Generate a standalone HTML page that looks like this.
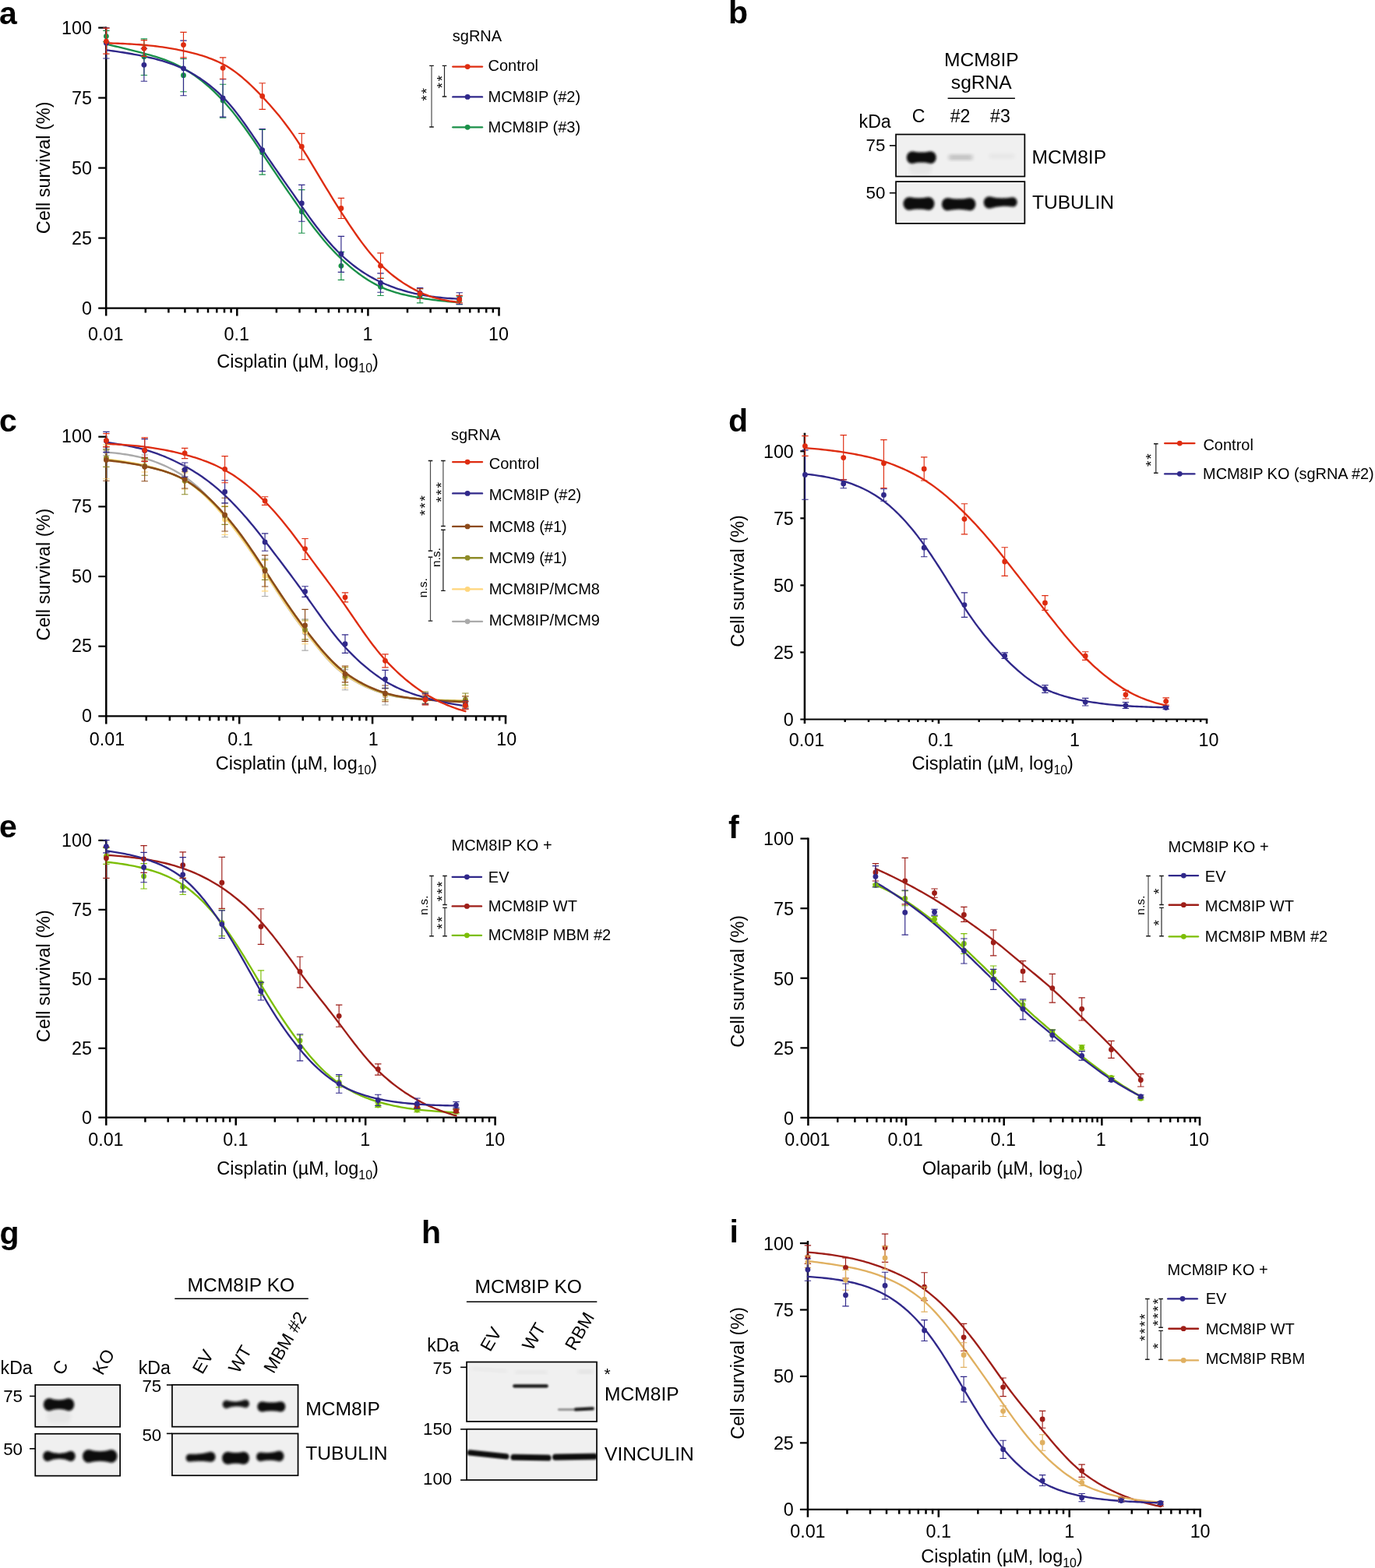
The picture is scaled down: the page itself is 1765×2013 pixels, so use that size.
<!DOCTYPE html>
<html lang="en"><head><meta charset="utf-8"><title>Figure</title>
<style>html,body{margin:0;padding:0;background:#fff}body{width:1765px;height:2013px;overflow:hidden}svg{display:block;font-family:"Liberation Sans",sans-serif}text{white-space:pre;font-family:"Liberation Sans",sans-serif}</style></head>
<body>
<svg width="1765" height="2013" viewBox="0 0 1765 2013" fill="#000">
<text x="-1" y="30.5" font-weight="bold" font-size="41" >a</text>
<line x1="136.2" y1="34.5" x2="136.2" y2="405.6" stroke="#000" stroke-width="2.5"/>
<line x1="126.2" y1="395.6" x2="641.75" y2="395.6" stroke="#000" stroke-width="2.2"/>
<text x="117.9" y="404.1" text-anchor="end" font-size="23.3" >0</text>
<line x1="126.2" y1="305.6" x2="136.2" y2="305.6" stroke="#000" stroke-width="2.2"/>
<text x="117.9" y="314.1" text-anchor="end" font-size="23.3" >25</text>
<line x1="126.2" y1="215.6" x2="136.2" y2="215.6" stroke="#000" stroke-width="2.2"/>
<text x="117.9" y="224.1" text-anchor="end" font-size="23.3" >50</text>
<line x1="126.2" y1="125.6" x2="136.2" y2="125.6" stroke="#000" stroke-width="2.2"/>
<text x="117.9" y="134.1" text-anchor="end" font-size="23.3" >75</text>
<line x1="126.2" y1="35.6" x2="136.2" y2="35.6" stroke="#000" stroke-width="2.2"/>
<text x="117.9" y="44.1" text-anchor="end" font-size="23.3" >100</text>
<text x="135.7" y="437.2" text-anchor="middle" font-size="23.3" >0.01</text>
<line x1="186.8" y1="395.6" x2="186.8" y2="401.5" stroke="#000" stroke-width="2.5"/>
<line x1="216.4" y1="395.6" x2="216.4" y2="401.5" stroke="#000" stroke-width="2.5"/>
<line x1="237.41" y1="395.6" x2="237.41" y2="401.5" stroke="#000" stroke-width="2.5"/>
<line x1="253.7" y1="395.6" x2="253.7" y2="401.5" stroke="#000" stroke-width="2.5"/>
<line x1="267.01" y1="395.6" x2="267.01" y2="401.5" stroke="#000" stroke-width="2.5"/>
<line x1="278.26" y1="395.6" x2="278.26" y2="401.5" stroke="#000" stroke-width="2.5"/>
<line x1="288.01" y1="395.6" x2="288.01" y2="401.5" stroke="#000" stroke-width="2.5"/>
<line x1="296.61" y1="395.6" x2="296.61" y2="401.5" stroke="#000" stroke-width="2.5"/>
<line x1="304.3" y1="395.6" x2="304.3" y2="405.6" stroke="#000" stroke-width="2.5"/>
<text x="303.8" y="437.2" text-anchor="middle" font-size="23.3" >0.1</text>
<line x1="354.9" y1="395.6" x2="354.9" y2="401.5" stroke="#000" stroke-width="2.5"/>
<line x1="384.5" y1="395.6" x2="384.5" y2="401.5" stroke="#000" stroke-width="2.5"/>
<line x1="405.51" y1="395.6" x2="405.51" y2="401.5" stroke="#000" stroke-width="2.5"/>
<line x1="421.8" y1="395.6" x2="421.8" y2="401.5" stroke="#000" stroke-width="2.5"/>
<line x1="435.11" y1="395.6" x2="435.11" y2="401.5" stroke="#000" stroke-width="2.5"/>
<line x1="446.36" y1="395.6" x2="446.36" y2="401.5" stroke="#000" stroke-width="2.5"/>
<line x1="456.11" y1="395.6" x2="456.11" y2="401.5" stroke="#000" stroke-width="2.5"/>
<line x1="464.71" y1="395.6" x2="464.71" y2="401.5" stroke="#000" stroke-width="2.5"/>
<line x1="472.4" y1="395.6" x2="472.4" y2="405.6" stroke="#000" stroke-width="2.5"/>
<text x="471.9" y="437.2" text-anchor="middle" font-size="23.3" >1</text>
<line x1="523" y1="395.6" x2="523" y2="401.5" stroke="#000" stroke-width="2.5"/>
<line x1="552.6" y1="395.6" x2="552.6" y2="401.5" stroke="#000" stroke-width="2.5"/>
<line x1="573.61" y1="395.6" x2="573.61" y2="401.5" stroke="#000" stroke-width="2.5"/>
<line x1="589.9" y1="395.6" x2="589.9" y2="401.5" stroke="#000" stroke-width="2.5"/>
<line x1="603.21" y1="395.6" x2="603.21" y2="401.5" stroke="#000" stroke-width="2.5"/>
<line x1="614.46" y1="395.6" x2="614.46" y2="401.5" stroke="#000" stroke-width="2.5"/>
<line x1="624.21" y1="395.6" x2="624.21" y2="401.5" stroke="#000" stroke-width="2.5"/>
<line x1="632.81" y1="395.6" x2="632.81" y2="401.5" stroke="#000" stroke-width="2.5"/>
<line x1="640.5" y1="395.6" x2="640.5" y2="405.6" stroke="#000" stroke-width="2.5"/>
<text x="640" y="437.2" text-anchor="middle" font-size="23.3" >10</text>
<text x="382.1" y="472.2" text-anchor="middle" font-size="23.5" >Cisplatin (µM, log<tspan font-size="15.86" dy="6">10</tspan><tspan dy="-6">)</tspan></text>
<text text-anchor="middle" transform="translate(64.2,215.35) rotate(-90)" font-size="23.5" >Cell survival (%)</text>
<path d="M136.4 56.8 L139.4 57.47 L142.4 58.15 L145.4 58.83 L148.4 59.52 L151.4 60.22 L154.4 60.93 L157.4 61.65 L160.4 62.37 L163.4 63.1 L166.4 63.84 L169.4 64.59 L172.4 65.34 L175.4 66.11 L178.4 66.88 L181.4 67.67 L184.4 68.47 L187.4 69.27 L190.4 70.1 L193.4 70.94 L196.4 71.81 L199.4 72.71 L202.4 73.64 L205.4 74.62 L208.4 75.64 L211.4 76.71 L214.4 77.84 L217.4 79.02 L220.4 80.28 L223.4 81.61 L226.4 83.01 L229.4 84.5 L232.4 86.07 L235.4 87.74 L238.4 89.5 L241.4 91.33 L244.4 93.24 L247.4 95.24 L250.4 97.32 L253.4 99.48 L256.4 101.73 L259.4 104.07 L262.4 106.51 L265.4 109.04 L268.4 111.66 L271.4 114.37 L274.4 117.19 L277.4 120.1 L280.4 123.11 L283.4 126.22 L286.4 129.43 L289.4 132.74 L292.4 136.17 L295.4 139.72 L298.4 143.37 L301.4 147.12 L304.4 150.97 L307.4 154.92 L310.4 158.95 L313.4 163.06 L316.4 167.25 L319.4 171.51 L322.4 175.82 L325.4 180.19 L328.4 184.61 L331.4 189.06 L334.4 193.55 L337.4 198.05 L340.4 202.55 L343.4 207.04 L346.4 211.52 L349.4 215.99 L352.4 220.44 L355.4 224.88 L358.4 229.31 L361.4 233.72 L364.4 238.11 L367.4 242.48 L370.4 246.83 L373.4 251.17 L376.4 255.48 L379.4 259.78 L382.4 264.06 L385.4 268.31 L388.4 272.55 L391.4 276.74 L394.4 280.88 L397.4 284.96 L400.4 288.98 L403.4 292.92 L406.4 296.8 L409.4 300.59 L412.4 304.3 L415.4 307.92 L418.4 311.46 L421.4 314.9 L424.4 318.25 L427.4 321.5 L430.4 324.65 L433.4 327.71 L436.4 330.66 L439.4 333.52 L442.4 336.29 L445.4 338.98 L448.4 341.59 L451.4 344.12 L454.4 346.56 L457.4 348.92 L460.4 351.19 L463.4 353.38 L466.4 355.48 L469.4 357.49 L472.4 359.41 L475.4 361.25 L478.4 362.99 L481.4 364.65 L484.4 366.21 L487.4 367.68 L490.4 369.06 L493.4 370.35 L496.4 371.56 L499.4 372.68 L502.4 373.73 L505.4 374.7 L508.4 375.62 L511.4 376.47 L514.4 377.27 L517.4 378.01 L520.4 378.72 L523.4 379.38 L526.4 380.01 L529.4 380.61 L532.4 381.18 L535.4 381.74 L538.4 382.28 L541.4 382.8 L544.4 383.29 L547.4 383.76 L550.4 384.2 L553.4 384.62 L556.4 385.01 L559.4 385.38 L562.4 385.74 L565.4 386.07 L568.4 386.39 L571.4 386.68 L574.4 386.97 L577.4 387.23 L580.4 387.49 L583.4 387.73 L586.4 387.96 L589.4 388.18 L589.7 388.2" stroke="#1a9048" stroke-width="2.35" stroke-linejoin="round" stroke-linecap="round" fill="none"/>
<path d="M136.4 64.3 L139.4 64.7 L142.4 65.1 L145.4 65.51 L148.4 65.93 L151.4 66.36 L154.4 66.81 L157.4 67.27 L160.4 67.74 L163.4 68.22 L166.4 68.73 L169.4 69.25 L172.4 69.79 L175.4 70.36 L178.4 70.94 L181.4 71.55 L184.4 72.19 L187.4 72.85 L190.4 73.53 L193.4 74.24 L196.4 74.96 L199.4 75.72 L202.4 76.51 L205.4 77.34 L208.4 78.21 L211.4 79.12 L214.4 80.07 L217.4 81.08 L220.4 82.15 L223.4 83.27 L226.4 84.46 L229.4 85.72 L232.4 87.05 L235.4 88.45 L238.4 89.93 L241.4 91.47 L244.4 93.09 L247.4 94.78 L250.4 96.54 L253.4 98.39 L256.4 100.33 L259.4 102.35 L262.4 104.46 L265.4 106.67 L268.4 108.98 L271.4 111.38 L274.4 113.89 L277.4 116.5 L280.4 119.23 L283.4 122.06 L286.4 125 L289.4 128.09 L292.4 131.35 L295.4 134.77 L298.4 138.34 L301.4 142.04 L304.4 145.87 L307.4 149.82 L310.4 153.87 L313.4 158.02 L316.4 162.25 L319.4 166.55 L322.4 170.9 L325.4 175.3 L328.4 179.72 L331.4 184.16 L334.4 188.6 L337.4 193.03 L340.4 197.43 L343.4 201.81 L346.4 206.18 L349.4 210.52 L352.4 214.85 L355.4 219.17 L358.4 223.47 L361.4 227.77 L364.4 232.06 L367.4 236.34 L370.4 240.63 L373.4 244.91 L376.4 249.19 L379.4 253.47 L382.4 257.77 L385.4 262.07 L388.4 266.38 L391.4 270.66 L394.4 274.89 L397.4 279.07 L400.4 283.19 L403.4 287.23 L406.4 291.2 L409.4 295.09 L412.4 298.9 L415.4 302.61 L418.4 306.22 L421.4 309.73 L424.4 313.14 L427.4 316.44 L430.4 319.63 L433.4 322.71 L436.4 325.67 L439.4 328.51 L442.4 331.25 L445.4 333.89 L448.4 336.43 L451.4 338.87 L454.4 341.22 L457.4 343.48 L460.4 345.65 L463.4 347.73 L466.4 349.72 L469.4 351.63 L472.4 353.46 L475.4 355.21 L478.4 356.88 L481.4 358.49 L484.4 360.02 L487.4 361.48 L490.4 362.88 L493.4 364.21 L496.4 365.49 L499.4 366.7 L502.4 367.86 L505.4 368.97 L508.4 370.02 L511.4 371.03 L514.4 371.98 L517.4 372.89 L520.4 373.75 L523.4 374.57 L526.4 375.35 L529.4 376.08 L532.4 376.78 L535.4 377.44 L538.4 378.06 L541.4 378.65 L544.4 379.19 L547.4 379.7 L550.4 380.17 L553.4 380.6 L556.4 381 L559.4 381.37 L562.4 381.71 L565.4 382.02 L568.4 382.31 L571.4 382.57 L574.4 382.8 L577.4 383.02 L580.4 383.21 L583.4 383.39 L586.4 383.55 L589.4 383.69 L589.7 383.7" stroke="#30288a" stroke-width="2.35" stroke-linejoin="round" stroke-linecap="round" fill="none"/>
<path d="M136.4 55.3 L139.4 55.38 L142.4 55.46 L145.4 55.56 L148.4 55.66 L151.4 55.77 L154.4 55.89 L157.4 56.03 L160.4 56.17 L163.4 56.32 L166.4 56.49 L169.4 56.67 L172.4 56.86 L175.4 57.06 L178.4 57.28 L181.4 57.51 L184.4 57.76 L187.4 58.02 L190.4 58.31 L193.4 58.61 L196.4 58.94 L199.4 59.29 L202.4 59.66 L205.4 60.05 L208.4 60.46 L211.4 60.9 L214.4 61.36 L217.4 61.84 L220.4 62.35 L223.4 62.88 L226.4 63.44 L229.4 64.03 L232.4 64.64 L235.4 65.28 L238.4 65.94 L241.4 66.63 L244.4 67.35 L247.4 68.09 L250.4 68.87 L253.4 69.69 L256.4 70.56 L259.4 71.47 L262.4 72.43 L265.4 73.44 L268.4 74.52 L271.4 75.66 L274.4 76.86 L277.4 78.14 L280.4 79.5 L283.4 80.93 L286.4 82.46 L289.4 84.1 L292.4 85.86 L295.4 87.76 L298.4 89.77 L301.4 91.91 L304.4 94.15 L307.4 96.51 L310.4 98.96 L313.4 101.52 L316.4 104.17 L319.4 106.91 L322.4 109.74 L325.4 112.64 L328.4 115.62 L331.4 118.67 L334.4 121.78 L337.4 124.94 L340.4 128.16 L343.4 131.43 L346.4 134.76 L349.4 138.17 L352.4 141.65 L355.4 145.22 L358.4 148.87 L361.4 152.62 L364.4 156.47 L367.4 160.42 L370.4 164.48 L373.4 168.65 L376.4 172.94 L379.4 177.34 L382.4 181.86 L385.4 186.5 L388.4 191.26 L391.4 196.08 L394.4 200.96 L397.4 205.87 L400.4 210.82 L403.4 215.8 L406.4 220.79 L409.4 225.79 L412.4 230.8 L415.4 235.79 L418.4 240.77 L421.4 245.73 L424.4 250.65 L427.4 255.53 L430.4 260.37 L433.4 265.15 L436.4 269.87 L439.4 274.52 L442.4 279.15 L445.4 283.74 L448.4 288.28 L451.4 292.76 L454.4 297.16 L457.4 301.49 L460.4 305.73 L463.4 309.87 L466.4 313.91 L469.4 317.83 L472.4 321.62 L475.4 325.29 L478.4 328.81 L481.4 332.2 L484.4 335.43 L487.4 338.51 L490.4 341.44 L493.4 344.26 L496.4 346.97 L499.4 349.57 L502.4 352.07 L505.4 354.47 L508.4 356.77 L511.4 358.97 L514.4 361.08 L517.4 363.1 L520.4 365.03 L523.4 366.87 L526.4 368.62 L529.4 370.3 L532.4 371.9 L535.4 373.42 L538.4 374.87 L541.4 376.24 L544.4 377.52 L547.4 378.71 L550.4 379.81 L553.4 380.83 L556.4 381.77 L559.4 382.64 L562.4 383.44 L565.4 384.18 L568.4 384.85 L571.4 385.47 L574.4 386.03 L577.4 386.54 L580.4 387.01 L583.4 387.43 L586.4 387.82 L589.4 388.17 L589.7 388.2" stroke="#de2c10" stroke-width="2.35" stroke-linejoin="round" stroke-linecap="round" fill="none"/>
<path d="M136.4 39.4V53.6M132.2 39.4H140.6M132.2 53.6H140.6M184.9 49.9V96.5M180.7 49.9H189.1M180.7 96.5H189.1M235.5 75.5V117.7M231.3 75.5H239.7M231.3 117.7H239.7M286.1 108.2V151.1M281.9 108.2H290.3M281.9 151.1H290.3M336.7 166.5V224.1M332.5 166.5H340.9M332.5 224.1H340.9M387.3 243.6V299.2M383.1 243.6H391.5M383.1 299.2H391.5M437.9 323.4V359.3M433.7 323.4H442.1M433.7 359.3H442.1M488.5 357V379.5M484.3 357H492.7M484.3 379.5H492.7M539.1 370.7V388.9M534.9 370.7H543.3M534.9 388.9H543.3M589.7 380.7V390.7M585.5 380.7H593.9M585.5 390.7H593.9" stroke="#1a9048" stroke-width="1.15" fill="none"/><g fill="#1a9048"><circle cx="136.4" cy="46.6" r="3.4"/><circle cx="184.9" cy="72.8" r="3.4"/><circle cx="235.5" cy="96.7" r="3.4"/><circle cx="286.1" cy="129.1" r="3.4"/><circle cx="336.7" cy="195.7" r="3.4"/><circle cx="387.3" cy="271.7" r="3.4"/><circle cx="437.9" cy="341.3" r="3.4"/><circle cx="488.5" cy="368.2" r="3.4"/><circle cx="539.1" cy="379.5" r="3.4"/><circle cx="589.7" cy="385.7" r="3.4"/></g>
<path d="M136.4 35.7V75M132.2 35.7H140.6M132.2 75H140.6M184.9 62.3V104.2M180.7 62.3H189.1M180.7 104.2H189.1M235.5 52.1V122.7M231.3 52.1H239.7M231.3 122.7H239.7M286.1 101.7V150.1M281.9 101.7H290.3M281.9 150.1H290.3M336.7 165.5V219.9M332.5 165.5H340.9M332.5 219.9H340.9M387.3 237.3V284.2M383.1 237.3H391.5M383.1 284.2H391.5M437.9 303.4V349.3M433.7 303.4H442.1M433.7 349.3H442.1M488.5 350.8V375.2M484.3 350.8H492.7M484.3 375.2H492.7M539.1 369.5V383.2M534.9 369.5H543.3M534.9 383.2H543.3M589.7 375.7V390.7M585.5 375.7H593.9M585.5 390.7H593.9" stroke="#30288a" stroke-width="1.15" fill="none"/><g fill="#30288a"><circle cx="136.4" cy="55.3" r="3.4"/><circle cx="184.9" cy="83.3" r="3.4"/><circle cx="235.5" cy="87.8" r="3.4"/><circle cx="286.1" cy="125.9" r="3.4"/><circle cx="336.7" cy="192.7" r="3.4"/><circle cx="387.3" cy="261" r="3.4"/><circle cx="437.9" cy="325.8" r="3.4"/><circle cx="488.5" cy="363.2" r="3.4"/><circle cx="539.1" cy="376.2" r="3.4"/><circle cx="589.7" cy="383.7" r="3.4"/></g>
<path d="M136.4 36.1V69.1M132.2 36.1H140.6M132.2 69.1H140.6M184.9 51.6V72.3M180.7 51.6H189.1M180.7 72.3H189.1M235.5 41.4V73.8M231.3 41.4H239.7M231.3 73.8H239.7M286.1 73.8V101.2M281.9 73.8H290.3M281.9 101.2H290.3M336.7 106.7V140.4M332.5 106.7H340.9M332.5 140.4H340.9M387.3 171.3V204.9M383.1 171.3H391.5M383.1 204.9H391.5M437.9 254.3V280.5M433.7 254.3H442.1M433.7 280.5H442.1M488.5 324.9V357.5M484.3 324.9H492.7M484.3 357.5H492.7M539.1 370.7V383.2M534.9 370.7H543.3M534.9 383.2H543.3M589.7 379.4V388.9M585.5 379.4H593.9M585.5 388.9H593.9" stroke="#de2c10" stroke-width="1.15" fill="none"/><g fill="#de2c10"><circle cx="136.4" cy="53.1" r="3.4"/><circle cx="184.9" cy="62.3" r="3.4"/><circle cx="235.5" cy="57.6" r="3.4"/><circle cx="286.1" cy="87.3" r="3.4"/><circle cx="336.7" cy="123.4" r="3.4"/><circle cx="387.3" cy="188.2" r="3.4"/><circle cx="437.9" cy="267.5" r="3.4"/><circle cx="488.5" cy="341.3" r="3.4"/><circle cx="539.1" cy="377" r="3.4"/><circle cx="589.7" cy="384.4" r="3.4"/></g>
<text x="580.8" y="53.1" font-size="20" >sgRNA</text>
<line x1="581.3" y1="85.6" x2="619" y2="85.6" stroke="#de2c10" stroke-width="2.35" stroke-linecap="round"/>
<circle cx="600.15" cy="85.6" r="3.4" fill="#de2c10"/>
<text x="626.5" y="91" font-size="20" >Control</text>
<line x1="581.3" y1="124.4" x2="619" y2="124.4" stroke="#30288a" stroke-width="2.35" stroke-linecap="round"/>
<circle cx="600.15" cy="124.4" r="3.4" fill="#30288a"/>
<text x="626.5" y="130.5" font-size="20" >MCM8IP (#2)</text>
<line x1="581.3" y1="163.3" x2="619" y2="163.3" stroke="#1a9048" stroke-width="2.35" stroke-linecap="round"/>
<circle cx="600.15" cy="163.3" r="3.4" fill="#1a9048"/>
<text x="626.5" y="170.3" font-size="20" >MCM8IP (#3)</text>
<path d="M570.5 84.4V124" stroke="#2a2a2a" stroke-width="1.2" fill="none"/>
<path d="M567.7 84.4H573.3M567.7 124H573.3" stroke="#1a1a1a" stroke-width="1.4" fill="none"/>
<path d="M554 84.4V163" stroke="#4c4c4c" stroke-width="1.2" fill="none"/>
<path d="M551.2 84.4H556.8M551.2 163H556.8" stroke="#1a1a1a" stroke-width="1.4" fill="none"/>
<text text-anchor="middle" transform="translate(573.9,104.2) rotate(-90)" font-size="19" letter-spacing="1.81">**</text>
<text text-anchor="middle" transform="translate(554,120.4) rotate(-90)" font-size="19" letter-spacing="1.81">**</text>
<text x="-1" y="554" font-weight="bold" font-size="41" >c</text>
<line x1="136.3" y1="559.6" x2="136.3" y2="929.4" stroke="#000" stroke-width="2.5"/>
<line x1="126.3" y1="919.4" x2="650.25" y2="919.4" stroke="#000" stroke-width="2.2"/>
<text x="117.9" y="926.95" text-anchor="end" font-size="23.3" >0</text>
<line x1="126.3" y1="829.73" x2="136.3" y2="829.73" stroke="#000" stroke-width="2.2"/>
<text x="117.9" y="837.27" text-anchor="end" font-size="23.3" >25</text>
<line x1="126.3" y1="740.05" x2="136.3" y2="740.05" stroke="#000" stroke-width="2.2"/>
<text x="117.9" y="747.6" text-anchor="end" font-size="23.3" >50</text>
<line x1="126.3" y1="650.38" x2="136.3" y2="650.38" stroke="#000" stroke-width="2.2"/>
<text x="117.9" y="657.92" text-anchor="end" font-size="23.3" >75</text>
<line x1="126.3" y1="560.7" x2="136.3" y2="560.7" stroke="#000" stroke-width="2.2"/>
<text x="117.9" y="568.25" text-anchor="end" font-size="23.3" >100</text>
<text x="137.5" y="957.3" text-anchor="middle" font-size="23.3" >0.01</text>
<line x1="187.75" y1="919.4" x2="187.75" y2="925.3" stroke="#000" stroke-width="2.5"/>
<line x1="217.84" y1="919.4" x2="217.84" y2="925.3" stroke="#000" stroke-width="2.5"/>
<line x1="239.19" y1="919.4" x2="239.19" y2="925.3" stroke="#000" stroke-width="2.5"/>
<line x1="255.75" y1="919.4" x2="255.75" y2="925.3" stroke="#000" stroke-width="2.5"/>
<line x1="269.29" y1="919.4" x2="269.29" y2="925.3" stroke="#000" stroke-width="2.5"/>
<line x1="280.73" y1="919.4" x2="280.73" y2="925.3" stroke="#000" stroke-width="2.5"/>
<line x1="290.64" y1="919.4" x2="290.64" y2="925.3" stroke="#000" stroke-width="2.5"/>
<line x1="299.38" y1="919.4" x2="299.38" y2="925.3" stroke="#000" stroke-width="2.5"/>
<line x1="307.2" y1="919.4" x2="307.2" y2="929.4" stroke="#000" stroke-width="2.5"/>
<text x="308.4" y="957.3" text-anchor="middle" font-size="23.3" >0.1</text>
<line x1="358.65" y1="919.4" x2="358.65" y2="925.3" stroke="#000" stroke-width="2.5"/>
<line x1="388.74" y1="919.4" x2="388.74" y2="925.3" stroke="#000" stroke-width="2.5"/>
<line x1="410.09" y1="919.4" x2="410.09" y2="925.3" stroke="#000" stroke-width="2.5"/>
<line x1="426.65" y1="919.4" x2="426.65" y2="925.3" stroke="#000" stroke-width="2.5"/>
<line x1="440.19" y1="919.4" x2="440.19" y2="925.3" stroke="#000" stroke-width="2.5"/>
<line x1="451.63" y1="919.4" x2="451.63" y2="925.3" stroke="#000" stroke-width="2.5"/>
<line x1="461.54" y1="919.4" x2="461.54" y2="925.3" stroke="#000" stroke-width="2.5"/>
<line x1="470.28" y1="919.4" x2="470.28" y2="925.3" stroke="#000" stroke-width="2.5"/>
<line x1="478.1" y1="919.4" x2="478.1" y2="929.4" stroke="#000" stroke-width="2.5"/>
<text x="479.3" y="957.3" text-anchor="middle" font-size="23.3" >1</text>
<line x1="529.55" y1="919.4" x2="529.55" y2="925.3" stroke="#000" stroke-width="2.5"/>
<line x1="559.64" y1="919.4" x2="559.64" y2="925.3" stroke="#000" stroke-width="2.5"/>
<line x1="580.99" y1="919.4" x2="580.99" y2="925.3" stroke="#000" stroke-width="2.5"/>
<line x1="597.55" y1="919.4" x2="597.55" y2="925.3" stroke="#000" stroke-width="2.5"/>
<line x1="611.09" y1="919.4" x2="611.09" y2="925.3" stroke="#000" stroke-width="2.5"/>
<line x1="622.53" y1="919.4" x2="622.53" y2="925.3" stroke="#000" stroke-width="2.5"/>
<line x1="632.44" y1="919.4" x2="632.44" y2="925.3" stroke="#000" stroke-width="2.5"/>
<line x1="641.18" y1="919.4" x2="641.18" y2="925.3" stroke="#000" stroke-width="2.5"/>
<line x1="649" y1="919.4" x2="649" y2="929.4" stroke="#000" stroke-width="2.5"/>
<text x="650.2" y="957.3" text-anchor="middle" font-size="23.3" >10</text>
<text x="380.45" y="988.3" text-anchor="middle" font-size="23.5" >Cisplatin (µM, log<tspan font-size="15.86" dy="6">10</tspan><tspan dy="-6">)</tspan></text>
<text text-anchor="middle" transform="translate(64.2,737.65) rotate(-90)" font-size="23.5" >Cell survival (%)</text>
<path d="M136.4 580.6 L139.4 580.83 L142.4 581.09 L145.4 581.37 L148.4 581.68 L151.4 582.02 L154.4 582.39 L157.4 582.8 L160.4 583.24 L163.4 583.71 L166.4 584.23 L169.4 584.78 L172.4 585.38 L175.4 586.02 L178.4 586.71 L181.4 587.45 L184.4 588.24 L187.4 589.08 L190.4 589.98 L193.4 590.93 L196.4 591.93 L199.4 593 L202.4 594.12 L205.4 595.3 L208.4 596.55 L211.4 597.86 L214.4 599.24 L217.4 600.7 L220.4 602.22 L223.4 603.82 L226.4 605.5 L229.4 607.26 L232.4 609.1 L235.4 611.03 L238.4 613.04 L241.4 615.18 L244.4 617.44 L247.4 619.82 L250.4 622.32 L253.4 624.93 L256.4 627.66 L259.4 630.49 L262.4 633.43 L265.4 636.48 L268.4 639.62 L271.4 642.85 L274.4 646.18 L277.4 649.59 L280.4 653.07 L283.4 656.64 L286.4 660.27 L289.4 663.96 L292.4 667.7 L295.4 671.5 L298.4 675.35 L301.4 679.25 L304.4 683.22 L307.4 687.24 L310.4 691.33 L313.4 695.48 L316.4 699.69 L319.4 703.96 L322.4 708.3 L325.4 712.69 L328.4 717.14 L331.4 721.65 L334.4 726.21 L337.4 730.82 L340.4 735.49 L343.4 740.17 L346.4 744.85 L349.4 749.52 L352.4 754.18 L355.4 758.8 L358.4 763.4 L361.4 767.96 L364.4 772.48 L367.4 776.94 L370.4 781.35 L373.4 785.7 L376.4 789.99 L379.4 794.2 L382.4 798.35 L385.4 802.41 L388.4 806.4 L391.4 810.31 L394.4 814.17 L397.4 818.02 L400.4 821.85 L403.4 825.64 L406.4 829.39 L409.4 833.07 L412.4 836.68 L415.4 840.2 L418.4 843.62 L421.4 846.92 L424.4 850.11 L427.4 853.17 L430.4 856.08 L433.4 858.83 L436.4 861.42 L439.4 863.84 L442.4 866.07 L445.4 868.14 L448.4 870.12 L451.4 872 L454.4 873.81 L457.4 875.53 L460.4 877.17 L463.4 878.73 L466.4 880.22 L469.4 881.63 L472.4 882.98 L475.4 884.26 L478.4 885.47 L481.4 886.63 L484.4 887.72 L487.4 888.76 L490.4 889.75 L493.4 890.68 L496.4 891.55 L499.4 892.34 L502.4 893.04 L505.4 893.67 L508.4 894.23 L511.4 894.72 L514.4 895.16 L517.4 895.55 L520.4 895.89 L523.4 896.2 L526.4 896.48 L529.4 896.74 L532.4 896.98 L535.4 897.2 L538.4 897.43 L541.4 897.65 L544.4 897.88 L547.4 898.12 L550.4 898.34 L553.4 898.55 L556.4 898.74 L559.4 898.92 L562.4 899.09 L565.4 899.25 L568.4 899.39 L571.4 899.53 L574.4 899.66 L577.4 899.78 L580.4 899.9 L583.4 900.01 L586.4 900.12 L589.4 900.22 L592.4 900.33 L595.4 900.43 L597.4 900.5" stroke="#aaaaaa" stroke-width="2.35" stroke-linejoin="round" stroke-linecap="round" fill="none"/>
<path d="M136.4 589.5 L139.4 589.84 L142.4 590.19 L145.4 590.56 L148.4 590.94 L151.4 591.33 L154.4 591.74 L157.4 592.17 L160.4 592.62 L163.4 593.1 L166.4 593.59 L169.4 594.12 L172.4 594.67 L175.4 595.25 L178.4 595.86 L181.4 596.51 L184.4 597.19 L187.4 597.91 L190.4 598.65 L193.4 599.41 L196.4 600.21 L199.4 601.03 L202.4 601.9 L205.4 602.81 L208.4 603.76 L211.4 604.78 L214.4 605.85 L217.4 606.99 L220.4 608.19 L223.4 609.48 L226.4 610.84 L229.4 612.3 L232.4 613.84 L235.4 615.49 L238.4 617.24 L241.4 619.12 L244.4 621.15 L247.4 623.31 L250.4 625.6 L253.4 628.02 L256.4 630.56 L259.4 633.21 L262.4 635.98 L265.4 638.85 L268.4 641.82 L271.4 644.89 L274.4 648.04 L277.4 651.28 L280.4 654.59 L283.4 657.97 L286.4 661.41 L289.4 664.91 L292.4 668.48 L295.4 672.12 L298.4 675.85 L301.4 679.65 L304.4 683.54 L307.4 687.5 L310.4 691.54 L313.4 695.66 L316.4 699.84 L319.4 704.1 L322.4 708.42 L325.4 712.8 L328.4 717.25 L331.4 721.74 L334.4 726.28 L337.4 730.86 L340.4 735.48 L343.4 740.11 L346.4 744.74 L349.4 749.35 L352.4 753.95 L355.4 758.52 L358.4 763.07 L361.4 767.57 L364.4 772.04 L367.4 776.47 L370.4 780.84 L373.4 785.17 L376.4 789.43 L379.4 793.64 L382.4 797.78 L385.4 801.85 L388.4 805.86 L391.4 809.8 L394.4 813.7 L397.4 817.59 L400.4 821.44 L403.4 825.24 L406.4 828.99 L409.4 832.67 L412.4 836.27 L415.4 839.78 L418.4 843.19 L421.4 846.48 L424.4 849.65 L427.4 852.69 L430.4 855.59 L433.4 858.33 L436.4 860.91 L439.4 863.33 L442.4 865.57 L445.4 867.65 L448.4 869.63 L451.4 871.53 L454.4 873.34 L457.4 875.06 L460.4 876.7 L463.4 878.27 L466.4 879.75 L469.4 881.17 L472.4 882.51 L475.4 883.79 L478.4 885 L481.4 886.15 L484.4 887.24 L487.4 888.27 L490.4 889.25 L493.4 890.18 L496.4 891.05 L499.4 891.83 L502.4 892.54 L505.4 893.17 L508.4 893.74 L511.4 894.24 L514.4 894.69 L517.4 895.08 L520.4 895.44 L523.4 895.75 L526.4 896.04 L529.4 896.3 L532.4 896.54 L535.4 896.76 L538.4 896.97 L541.4 897.18 L544.4 897.39 L547.4 897.6 L550.4 897.8 L553.4 897.99 L556.4 898.15 L559.4 898.31 L562.4 898.45 L565.4 898.58 L568.4 898.71 L571.4 898.82 L574.4 898.92 L577.4 899.01 L580.4 899.1 L583.4 899.18 L586.4 899.26 L589.4 899.33 L592.4 899.4 L595.4 899.46 L597.4 899.5" stroke="#ffd67c" stroke-width="2.35" stroke-linejoin="round" stroke-linecap="round" fill="none"/>
<path d="M136.4 590.5 L139.4 590.85 L142.4 591.21 L145.4 591.58 L148.4 591.95 L151.4 592.35 L154.4 592.75 L157.4 593.18 L160.4 593.62 L163.4 594.08 L166.4 594.56 L169.4 595.06 L172.4 595.59 L175.4 596.15 L178.4 596.74 L181.4 597.35 L184.4 598.01 L187.4 598.69 L190.4 599.39 L193.4 600.12 L196.4 600.86 L199.4 601.64 L202.4 602.45 L205.4 603.31 L208.4 604.21 L211.4 605.16 L214.4 606.17 L217.4 607.25 L220.4 608.39 L223.4 609.6 L226.4 610.9 L229.4 612.28 L232.4 613.76 L235.4 615.33 L238.4 617.01 L241.4 618.81 L244.4 620.73 L247.4 622.77 L250.4 624.94 L253.4 627.22 L256.4 629.61 L259.4 632.11 L262.4 634.72 L265.4 637.43 L268.4 640.25 L271.4 643.16 L274.4 646.16 L277.4 649.25 L280.4 652.42 L283.4 655.67 L286.4 658.99 L289.4 662.38 L292.4 665.86 L295.4 669.44 L298.4 673.12 L301.4 676.89 L304.4 680.76 L307.4 684.72 L310.4 688.76 L313.4 692.89 L316.4 697.1 L319.4 701.38 L322.4 705.74 L325.4 710.16 L328.4 714.63 L331.4 719.16 L334.4 723.73 L337.4 728.34 L340.4 732.98 L343.4 737.63 L346.4 742.25 L349.4 746.86 L352.4 751.44 L355.4 755.99 L358.4 760.51 L361.4 764.99 L364.4 769.43 L367.4 773.84 L370.4 778.19 L373.4 782.5 L376.4 786.77 L379.4 790.98 L382.4 795.14 L385.4 799.24 L388.4 803.3 L391.4 807.3 L394.4 811.26 L397.4 815.19 L400.4 819.07 L403.4 822.89 L406.4 826.65 L409.4 830.33 L412.4 833.92 L415.4 837.42 L418.4 840.82 L421.4 844.12 L424.4 847.29 L427.4 850.35 L430.4 853.27 L433.4 856.06 L436.4 858.7 L439.4 861.2 L442.4 863.54 L445.4 865.75 L448.4 867.85 L451.4 869.87 L454.4 871.79 L457.4 873.62 L460.4 875.37 L463.4 877.03 L466.4 878.62 L469.4 880.12 L472.4 881.55 L475.4 882.91 L478.4 884.2 L481.4 885.42 L484.4 886.57 L487.4 887.66 L490.4 888.69 L493.4 889.67 L496.4 890.58 L499.4 891.41 L502.4 892.17 L505.4 892.87 L508.4 893.5 L511.4 894.07 L514.4 894.59 L517.4 895.06 L520.4 895.49 L523.4 895.87 L526.4 896.23 L529.4 896.55 L532.4 896.85 L535.4 897.13 L538.4 897.39 L541.4 897.64 L544.4 897.88 L547.4 898.11 L550.4 898.33 L553.4 898.53 L556.4 898.71 L559.4 898.88 L562.4 899.03 L565.4 899.17 L568.4 899.3 L571.4 899.41 L574.4 899.52 L577.4 899.61 L580.4 899.69 L583.4 899.76 L586.4 899.83 L589.4 899.88 L592.4 899.93 L595.4 899.98 L597.4 900" stroke="#8e8c28" stroke-width="2.35" stroke-linejoin="round" stroke-linecap="round" fill="none"/>
<path d="M136.4 591 L139.4 591.31 L142.4 591.63 L145.4 591.96 L148.4 592.31 L151.4 592.68 L154.4 593.06 L157.4 593.47 L160.4 593.89 L163.4 594.33 L166.4 594.8 L169.4 595.3 L172.4 595.82 L175.4 596.37 L178.4 596.95 L181.4 597.56 L184.4 598.21 L187.4 598.89 L190.4 599.58 L193.4 600.28 L196.4 601.01 L199.4 601.76 L202.4 602.54 L205.4 603.36 L208.4 604.22 L211.4 605.13 L214.4 606.11 L217.4 607.14 L220.4 608.24 L223.4 609.42 L226.4 610.69 L229.4 612.04 L232.4 613.49 L235.4 615.04 L238.4 616.7 L241.4 618.49 L244.4 620.4 L247.4 622.43 L250.4 624.58 L253.4 626.84 L256.4 629.22 L259.4 631.71 L262.4 634.31 L265.4 637 L268.4 639.8 L271.4 642.69 L274.4 645.67 L277.4 648.74 L280.4 651.89 L283.4 655.11 L286.4 658.41 L289.4 661.78 L292.4 665.23 L295.4 668.79 L298.4 672.45 L301.4 676.21 L304.4 680.07 L307.4 684.02 L310.4 688.06 L313.4 692.19 L316.4 696.41 L319.4 700.7 L322.4 705.06 L325.4 709.49 L328.4 713.97 L331.4 718.51 L334.4 723.1 L337.4 727.73 L340.4 732.39 L343.4 737.04 L346.4 741.69 L349.4 746.31 L352.4 750.9 L355.4 755.47 L358.4 760 L361.4 764.5 L364.4 768.96 L367.4 773.38 L370.4 777.76 L373.4 782.09 L376.4 786.37 L379.4 790.6 L382.4 794.77 L385.4 798.9 L388.4 802.98 L391.4 807 L394.4 810.98 L397.4 814.9 L400.4 818.78 L403.4 822.58 L406.4 826.31 L409.4 829.96 L412.4 833.52 L415.4 836.98 L418.4 840.34 L421.4 843.59 L424.4 846.72 L427.4 849.74 L430.4 852.63 L433.4 855.39 L436.4 858.01 L439.4 860.5 L442.4 862.84 L445.4 865.05 L448.4 867.17 L451.4 869.19 L454.4 871.12 L457.4 872.96 L460.4 874.72 L463.4 876.39 L466.4 877.98 L469.4 879.5 L472.4 880.94 L475.4 882.31 L478.4 883.61 L481.4 884.84 L484.4 886.01 L487.4 887.12 L490.4 888.17 L493.4 889.16 L496.4 890.09 L499.4 890.95 L502.4 891.73 L505.4 892.45 L508.4 893.11 L511.4 893.71 L514.4 894.27 L517.4 894.77 L520.4 895.24 L523.4 895.67 L526.4 896.07 L529.4 896.44 L532.4 896.79 L535.4 897.12 L538.4 897.44 L541.4 897.74 L544.4 898.05 L547.4 898.34 L550.4 898.63 L553.4 898.89 L556.4 899.14 L559.4 899.37 L562.4 899.59 L565.4 899.79 L568.4 899.98 L571.4 900.16 L574.4 900.33 L577.4 900.5 L580.4 900.65 L583.4 900.79 L586.4 900.93 L589.4 901.07 L592.4 901.19 L595.4 901.32 L597.4 901.4" stroke="#8c4a1a" stroke-width="2.35" stroke-linejoin="round" stroke-linecap="round" fill="none"/>
<path d="M136.4 567.9 L139.4 568.29 L142.4 568.7 L145.4 569.13 L148.4 569.59 L151.4 570.06 L154.4 570.55 L157.4 571.07 L160.4 571.62 L163.4 572.18 L166.4 572.78 L169.4 573.4 L172.4 574.05 L175.4 574.73 L178.4 575.44 L181.4 576.18 L184.4 576.95 L187.4 577.77 L190.4 578.63 L193.4 579.56 L196.4 580.54 L199.4 581.57 L202.4 582.65 L205.4 583.79 L208.4 584.97 L211.4 586.2 L214.4 587.47 L217.4 588.79 L220.4 590.15 L223.4 591.56 L226.4 593 L229.4 594.49 L232.4 596.01 L235.4 597.57 L238.4 599.16 L241.4 600.82 L244.4 602.53 L247.4 604.31 L250.4 606.15 L253.4 608.06 L256.4 610.04 L259.4 612.09 L262.4 614.21 L265.4 616.4 L268.4 618.66 L271.4 621 L274.4 623.41 L277.4 625.9 L280.4 628.47 L283.4 631.11 L286.4 633.83 L289.4 636.63 L292.4 639.5 L295.4 642.45 L298.4 645.47 L301.4 648.56 L304.4 651.73 L307.4 654.97 L310.4 658.28 L313.4 661.66 L316.4 665.1 L319.4 668.62 L322.4 672.2 L325.4 675.84 L328.4 679.54 L331.4 683.31 L334.4 687.12 L337.4 690.99 L340.4 694.91 L343.4 698.85 L346.4 702.78 L349.4 706.72 L352.4 710.67 L355.4 714.62 L358.4 718.58 L361.4 722.55 L364.4 726.53 L367.4 730.52 L370.4 734.53 L373.4 738.56 L376.4 742.6 L379.4 746.65 L382.4 750.73 L385.4 754.83 L388.4 758.95 L391.4 763.09 L394.4 767.26 L397.4 771.46 L400.4 775.68 L403.4 779.89 L406.4 784.1 L409.4 788.29 L412.4 792.46 L415.4 796.58 L418.4 800.65 L421.4 804.66 L424.4 808.6 L427.4 812.46 L430.4 816.23 L433.4 819.9 L436.4 823.47 L439.4 826.91 L442.4 830.24 L445.4 833.45 L448.4 836.57 L451.4 839.62 L454.4 842.59 L457.4 845.48 L460.4 848.28 L463.4 851.01 L466.4 853.65 L469.4 856.21 L472.4 858.69 L475.4 861.09 L478.4 863.41 L481.4 865.65 L484.4 867.81 L487.4 869.89 L490.4 871.9 L493.4 873.83 L496.4 875.68 L499.4 877.42 L502.4 879.08 L505.4 880.64 L508.4 882.12 L511.4 883.51 L514.4 884.84 L517.4 886.09 L520.4 887.29 L523.4 888.42 L526.4 889.51 L529.4 890.54 L532.4 891.54 L535.4 892.51 L538.4 893.44 L541.4 894.35 L544.4 895.25 L547.4 896.12 L550.4 896.97 L553.4 897.77 L556.4 898.54 L559.4 899.28 L562.4 899.98 L565.4 900.66 L568.4 901.31 L571.4 901.92 L574.4 902.52 L577.4 903.09 L580.4 903.64 L583.4 904.17 L586.4 904.68 L589.4 905.17 L592.4 905.64 L595.4 906.1 L597.4 906.4" stroke="#30288a" stroke-width="2.35" stroke-linejoin="round" stroke-linecap="round" fill="none"/>
<path d="M136.4 569.9 L139.4 570.02 L142.4 570.14 L145.4 570.28 L148.4 570.43 L151.4 570.59 L154.4 570.76 L157.4 570.95 L160.4 571.15 L163.4 571.37 L166.4 571.6 L169.4 571.85 L172.4 572.13 L175.4 572.42 L178.4 572.74 L181.4 573.07 L184.4 573.44 L187.4 573.82 L190.4 574.23 L193.4 574.65 L196.4 575.1 L199.4 575.56 L202.4 576.05 L205.4 576.56 L208.4 577.09 L211.4 577.65 L214.4 578.24 L217.4 578.85 L220.4 579.49 L223.4 580.15 L226.4 580.85 L229.4 581.57 L232.4 582.33 L235.4 583.12 L238.4 583.94 L241.4 584.79 L244.4 585.66 L247.4 586.56 L250.4 587.49 L253.4 588.45 L256.4 589.45 L259.4 590.49 L262.4 591.57 L265.4 592.71 L268.4 593.89 L271.4 595.13 L274.4 596.43 L277.4 597.79 L280.4 599.22 L283.4 600.72 L286.4 602.29 L289.4 603.93 L292.4 605.66 L295.4 607.47 L298.4 609.36 L301.4 611.33 L304.4 613.38 L307.4 615.51 L310.4 617.72 L313.4 620.02 L316.4 622.39 L319.4 624.85 L322.4 627.38 L325.4 630 L328.4 632.69 L331.4 635.46 L334.4 638.3 L337.4 641.22 L340.4 644.22 L343.4 647.29 L346.4 650.46 L349.4 653.71 L352.4 657.05 L355.4 660.47 L358.4 663.98 L361.4 667.55 L364.4 671.21 L367.4 674.93 L370.4 678.72 L373.4 682.58 L376.4 686.49 L379.4 690.46 L382.4 694.48 L385.4 698.54 L388.4 702.65 L391.4 706.79 L394.4 710.93 L397.4 715.04 L400.4 719.12 L403.4 723.17 L406.4 727.21 L409.4 731.24 L412.4 735.26 L415.4 739.29 L418.4 743.32 L421.4 747.36 L424.4 751.41 L427.4 755.49 L430.4 759.6 L433.4 763.74 L436.4 767.92 L439.4 772.15 L442.4 776.42 L445.4 780.75 L448.4 785.1 L451.4 789.48 L454.4 793.87 L457.4 798.25 L460.4 802.61 L463.4 806.94 L466.4 811.23 L469.4 815.46 L472.4 819.62 L475.4 823.71 L478.4 827.7 L481.4 831.59 L484.4 835.37 L487.4 839.03 L490.4 842.55 L493.4 845.93 L496.4 849.17 L499.4 852.32 L502.4 855.38 L505.4 858.37 L508.4 861.27 L511.4 864.08 L514.4 866.81 L517.4 869.46 L520.4 872.03 L523.4 874.51 L526.4 876.92 L529.4 879.24 L532.4 881.49 L535.4 883.66 L538.4 885.76 L541.4 887.78 L544.4 889.73 L547.4 891.61 L550.4 893.41 L553.4 895.14 L556.4 896.79 L559.4 898.38 L562.4 899.89 L565.4 901.34 L568.4 902.72 L571.4 904.05 L574.4 905.31 L577.4 906.51 L580.4 907.66 L583.4 908.75 L586.4 909.79 L589.4 910.78 L592.4 911.73 L595.4 912.63 L597.4 913.2" stroke="#de2c10" stroke-width="2.35" stroke-linejoin="round" stroke-linecap="round" fill="none"/>
<path d="M136.4 576.1V584.8M132.2 576.1H140.6M132.2 584.8H140.6M185.7 584V598M181.5 584H189.9M181.5 598H189.9M237.16 598V612M232.96 598H241.36M232.96 612H241.36M288.62 645.9V689.5M284.43 645.9H292.82M284.43 689.5H292.82M340.09 717V765.5M335.89 717H344.29M335.89 765.5H344.29M391.55 794.7V835.1M387.35 794.7H395.75M387.35 835.1H395.75M443.01 859.6V885.7M438.81 859.6H447.21M438.81 885.7H447.21M494.47 883.2V905M490.27 883.2H498.67M490.27 905H498.67M545.94 891V905M541.74 891H550.14M541.74 905H550.14M597.4 894V907M593.2 894H601.6M593.2 907H601.6" stroke="#aaaaaa" stroke-width="1.15" fill="none"/><g fill="#aaaaaa"><circle cx="136.4" cy="579.8" r="3.4"/><circle cx="185.7" cy="591.1" r="3.4"/><circle cx="237.16" cy="604.8" r="3.4"/><circle cx="288.62" cy="664.6" r="3.4"/><circle cx="340.09" cy="736.9" r="3.4"/><circle cx="391.55" cy="812.2" r="3.4"/><circle cx="443.01" cy="870.8" r="3.4"/><circle cx="494.47" cy="893.2" r="3.4"/><circle cx="545.94" cy="898" r="3.4"/><circle cx="597.4" cy="900" r="3.4"/></g>
<path d="M136.4 571.1V614.7M132.2 571.1H140.6M132.2 614.7H140.6M185.7 590.6V606M181.5 590.6H189.9M181.5 606H189.9M237.16 607V628M232.96 607H241.36M232.96 628H241.36M288.62 649.6V686.5M284.43 649.6H292.82M284.43 686.5H292.82M340.09 719.4V758.8M335.89 719.4H344.29M335.89 758.8H344.29M391.55 797.2V826.7M387.35 797.2H395.75M387.35 826.7H395.75M443.01 855.8V883.2M438.81 855.8H447.21M438.81 883.2H447.21M494.47 884V900M490.27 884H498.67M490.27 900H498.67M545.94 890V904M541.74 890H550.14M541.74 904H550.14M597.4 893V906M593.2 893H601.6M593.2 906H601.6" stroke="#ffd67c" stroke-width="1.15" fill="none"/><g fill="#ffd67c"><circle cx="136.4" cy="589.8" r="3.4"/><circle cx="185.7" cy="597.8" r="3.4"/><circle cx="237.16" cy="617.2" r="3.4"/><circle cx="288.62" cy="667" r="3.4"/><circle cx="340.09" cy="739.4" r="3.4"/><circle cx="391.55" cy="810.9" r="3.4"/><circle cx="443.01" cy="869.5" r="3.4"/><circle cx="494.47" cy="892" r="3.4"/><circle cx="545.94" cy="897" r="3.4"/><circle cx="597.4" cy="899.5" r="3.4"/></g>
<path d="M136.4 577.3V599.3M132.2 577.3H140.6M132.2 599.3H140.6M185.7 588.6V610.2M181.5 588.6H189.9M181.5 610.2H189.9M237.16 602.3V634.7M232.96 602.3H241.36M232.96 634.7H241.36M288.62 650.4V673.3M284.43 650.4H292.82M284.43 673.3H292.82M340.09 718.2V744.4M335.89 718.2H344.29M335.89 744.4H344.29M391.55 796V820.9M387.35 796H395.75M387.35 820.9H395.75M443.01 857V879.5M438.81 857H447.21M438.81 879.5H447.21M494.47 883.2V898.2M490.27 883.2H498.67M490.27 898.2H498.67M545.94 888V903M541.74 888H550.14M541.74 903H550.14M597.4 890V907M593.2 890H601.6M593.2 907H601.6" stroke="#8e8c28" stroke-width="1.15" fill="none"/><g fill="#8e8c28"><circle cx="136.4" cy="587.8" r="3.4"/><circle cx="185.7" cy="598.5" r="3.4"/><circle cx="237.16" cy="617.2" r="3.4"/><circle cx="288.62" cy="662.1" r="3.4"/><circle cx="340.09" cy="731.4" r="3.4"/><circle cx="391.55" cy="808.5" r="3.4"/><circle cx="443.01" cy="868.3" r="3.4"/><circle cx="494.47" cy="890.7" r="3.4"/><circle cx="545.94" cy="895.7" r="3.4"/><circle cx="597.4" cy="898.2" r="3.4"/></g>
<path d="M136.4 573.6V617.2M132.2 573.6H140.6M132.2 617.2H140.6M185.7 587.3V617.7M181.5 587.3H189.9M181.5 617.7H189.9M237.16 605V627M232.96 605H241.36M232.96 627H241.36M288.62 639.2V682M284.43 639.2H292.82M284.43 682H292.82M340.09 712.8V753M335.89 712.8H344.29M335.89 753H344.29M391.55 782.3V823.4M387.35 782.3H395.75M387.35 823.4H395.75M443.01 855V875.8M438.81 855H447.21M438.81 875.8H447.21M494.47 880V900.7M490.27 880H498.67M490.27 900.7H498.67M545.94 890V904M541.74 890H550.14M541.74 904H550.14M597.4 894V909M593.2 894H601.6M593.2 909H601.6" stroke="#8c4a1a" stroke-width="1.15" fill="none"/><g fill="#8c4a1a"><circle cx="136.4" cy="590.6" r="3.4"/><circle cx="185.7" cy="599.3" r="3.4"/><circle cx="237.16" cy="615.2" r="3.4"/><circle cx="288.62" cy="661.1" r="3.4"/><circle cx="340.09" cy="732.8" r="3.4"/><circle cx="391.55" cy="803" r="3.4"/><circle cx="443.01" cy="865.3" r="3.4"/><circle cx="494.47" cy="890.2" r="3.4"/><circle cx="545.94" cy="897" r="3.4"/><circle cx="597.4" cy="901.4" r="3.4"/></g>
<path d="M136.4 554.4V580.6M132.2 554.4H140.6M132.2 580.6H140.6M185.7 563.6V592.3M181.5 563.6H189.9M181.5 592.3H189.9M237.16 594V612.2M232.96 594H241.36M232.96 612.2H241.36M288.62 616.7V645.9M284.43 616.7H292.82M284.43 645.9H292.82M340.09 684.8V707.2M335.89 684.8H344.29M335.89 707.2H344.29M391.55 752.7V766.3M387.35 752.7H395.75M387.35 766.3H395.75M443.01 814.9V838.4M438.81 814.9H447.21M438.81 838.4H447.21M494.47 860.3V883.7M490.27 860.3H498.67M490.27 883.7H498.67M545.94 890V904M541.74 890H550.14M541.74 904H550.14M597.4 900V910M593.2 900H601.6M593.2 910H601.6" stroke="#30288a" stroke-width="1.15" fill="none"/><g fill="#30288a"><circle cx="136.4" cy="566" r="3.4"/><circle cx="185.7" cy="578.5" r="3.4"/><circle cx="237.16" cy="603" r="3.4"/><circle cx="288.62" cy="631.4" r="3.4"/><circle cx="340.09" cy="696" r="3.4"/><circle cx="391.55" cy="759.5" r="3.4"/><circle cx="443.01" cy="826.7" r="3.4"/><circle cx="494.47" cy="872" r="3.4"/><circle cx="545.94" cy="897" r="3.4"/><circle cx="597.4" cy="905" r="3.4"/></g>
<path d="M136.4 556.6V573.6M132.2 556.6H140.6M132.2 573.6H140.6M185.7 561.9V592.3M181.5 561.9H189.9M181.5 592.3H189.9M237.16 575.3V588.6M232.96 575.3H241.36M232.96 588.6H241.36M288.62 585.6V619.7M284.43 585.6H292.82M284.43 619.7H292.82M340.09 637.7V648.4M335.89 637.7H344.29M335.89 648.4H344.29M391.55 691.5V718.3M387.35 691.5H395.75M387.35 718.3H395.75M443.01 760.8V772.8M438.81 760.8H447.21M438.81 772.8H447.21M494.47 839.9V856.8M490.27 839.9H498.67M490.27 856.8H498.67M545.94 892V905M541.74 892H550.14M541.74 905H550.14M597.4 900.7V910.7M593.2 900.7H601.6M593.2 910.7H601.6" stroke="#de2c10" stroke-width="1.15" fill="none"/><g fill="#de2c10"><circle cx="136.4" cy="565.6" r="3.4"/><circle cx="185.7" cy="578.1" r="3.4"/><circle cx="237.16" cy="581.8" r="3.4"/><circle cx="288.62" cy="602.3" r="3.4"/><circle cx="340.09" cy="642.9" r="3.4"/><circle cx="391.55" cy="704.6" r="3.4"/><circle cx="443.01" cy="766.8" r="3.4"/><circle cx="494.47" cy="848.3" r="3.4"/><circle cx="545.94" cy="898.2" r="3.4"/><circle cx="597.4" cy="905.7" r="3.4"/></g>
<text x="579" y="564.6" font-size="20" >sgRNA</text>
<line x1="581.2" y1="593.1" x2="619" y2="593.1" stroke="#de2c10" stroke-width="2.35" stroke-linecap="round"/>
<circle cx="600.1" cy="593.1" r="3.4" fill="#de2c10"/>
<text x="627.7" y="602.2" font-size="20" >Control</text>
<line x1="581.2" y1="633.4" x2="619" y2="633.4" stroke="#30288a" stroke-width="2.35" stroke-linecap="round"/>
<circle cx="600.1" cy="633.4" r="3.4" fill="#30288a"/>
<text x="627.7" y="642.3" font-size="20" >MCM8IP (#2)</text>
<line x1="581.2" y1="675.9" x2="619" y2="675.9" stroke="#8c4a1a" stroke-width="2.35" stroke-linecap="round"/>
<circle cx="600.1" cy="675.9" r="3.4" fill="#8c4a1a"/>
<text x="627.7" y="682.6" font-size="20" >MCM8 (#1)</text>
<line x1="581.2" y1="716.2" x2="619" y2="716.2" stroke="#8e8c28" stroke-width="2.35" stroke-linecap="round"/>
<circle cx="600.1" cy="716.2" r="3.4" fill="#8e8c28"/>
<text x="627.7" y="722.7" font-size="20" >MCM9 (#1)</text>
<line x1="581.2" y1="756.4" x2="619" y2="756.4" stroke="#ffd67c" stroke-width="2.35" stroke-linecap="round"/>
<circle cx="600.1" cy="756.4" r="3.4" fill="#ffd67c"/>
<text x="627.7" y="762.9" font-size="20" >MCM8IP/MCM8</text>
<line x1="581.2" y1="797.8" x2="619" y2="797.8" stroke="#aaaaaa" stroke-width="2.35" stroke-linecap="round"/>
<circle cx="600.1" cy="797.8" r="3.4" fill="#aaaaaa"/>
<text x="627.7" y="803.2" font-size="20" >MCM8IP/MCM9</text>
<path d="M568.9 591.5V675.5" stroke="#4c4c4c" stroke-width="1.2" fill="none"/>
<path d="M566.1 591.5H571.7M566.1 675.5H571.7" stroke="#1a1a1a" stroke-width="1.4" fill="none"/>
<path d="M568.9 680.2V758.4" stroke="#1a1a1a" stroke-width="1.2" fill="none"/>
<path d="M566.1 680.2H571.7M566.1 758.4H571.7" stroke="#1a1a1a" stroke-width="1.4" fill="none"/>
<path d="M552.5 591.5V707.3" stroke="#4c4c4c" stroke-width="1.2" fill="none"/>
<path d="M549.7 591.5H555.3M549.7 707.3H555.3" stroke="#1a1a1a" stroke-width="1.4" fill="none"/>
<path d="M552.5 715.3V797.1" stroke="#4c4c4c" stroke-width="1.2" fill="none"/>
<path d="M549.7 715.3H555.3M549.7 797.1H555.3" stroke="#1a1a1a" stroke-width="1.4" fill="none"/>
<text text-anchor="middle" transform="translate(572.5,631.1) rotate(-90)" font-size="19" letter-spacing="1.81">***</text>
<text text-anchor="middle" transform="translate(552.2,648.1) rotate(-90)" font-size="19" letter-spacing="1.81">***</text>
<text text-anchor="middle" transform="translate(565.2,715.6) rotate(-90)" font-size="15.5" >n.s.</text>
<text text-anchor="middle" transform="translate(547.8,754.8) rotate(-90)" font-size="15.5" >n.s.</text>
<text x="935" y="554.2" font-weight="bold" font-size="41" >d</text>
<line x1="1032.9" y1="555.7" x2="1032.9" y2="929.1" stroke="#000" stroke-width="2.5"/>
<line x1="1027.3" y1="923.5" x2="1550.25" y2="923.5" stroke="#000" stroke-width="2.2"/>
<text x="1018.8" y="932.4" text-anchor="end" font-size="23.3" >0</text>
<line x1="1027.3" y1="837.45" x2="1032.9" y2="837.45" stroke="#000" stroke-width="2.2"/>
<text x="1018.8" y="846.35" text-anchor="end" font-size="23.3" >25</text>
<line x1="1027.3" y1="751.4" x2="1032.9" y2="751.4" stroke="#000" stroke-width="2.2"/>
<text x="1018.8" y="760.3" text-anchor="end" font-size="23.3" >50</text>
<line x1="1027.3" y1="665.35" x2="1032.9" y2="665.35" stroke="#000" stroke-width="2.2"/>
<text x="1018.8" y="674.25" text-anchor="end" font-size="23.3" >75</text>
<line x1="1027.3" y1="579.3" x2="1032.9" y2="579.3" stroke="#000" stroke-width="2.2"/>
<text x="1018.8" y="588.2" text-anchor="end" font-size="23.3" >100</text>
<text x="1035.45" y="957.6" text-anchor="middle" font-size="23.3" >0.01</text>
<line x1="1084.69" y1="923.5" x2="1084.69" y2="926.9" stroke="#000" stroke-width="2.5"/>
<line x1="1114.98" y1="923.5" x2="1114.98" y2="926.9" stroke="#000" stroke-width="2.5"/>
<line x1="1136.47" y1="923.5" x2="1136.47" y2="926.9" stroke="#000" stroke-width="2.5"/>
<line x1="1153.15" y1="923.5" x2="1153.15" y2="926.9" stroke="#000" stroke-width="2.5"/>
<line x1="1166.77" y1="923.5" x2="1166.77" y2="926.9" stroke="#000" stroke-width="2.5"/>
<line x1="1178.29" y1="923.5" x2="1178.29" y2="926.9" stroke="#000" stroke-width="2.5"/>
<line x1="1188.26" y1="923.5" x2="1188.26" y2="926.9" stroke="#000" stroke-width="2.5"/>
<line x1="1197.06" y1="923.5" x2="1197.06" y2="926.9" stroke="#000" stroke-width="2.5"/>
<line x1="1204.93" y1="923.5" x2="1204.93" y2="929.1" stroke="#000" stroke-width="2.5"/>
<text x="1207.48" y="957.6" text-anchor="middle" font-size="23.3" >0.1</text>
<line x1="1256.72" y1="923.5" x2="1256.72" y2="926.9" stroke="#000" stroke-width="2.5"/>
<line x1="1287.01" y1="923.5" x2="1287.01" y2="926.9" stroke="#000" stroke-width="2.5"/>
<line x1="1308.51" y1="923.5" x2="1308.51" y2="926.9" stroke="#000" stroke-width="2.5"/>
<line x1="1325.18" y1="923.5" x2="1325.18" y2="926.9" stroke="#000" stroke-width="2.5"/>
<line x1="1338.8" y1="923.5" x2="1338.8" y2="926.9" stroke="#000" stroke-width="2.5"/>
<line x1="1350.32" y1="923.5" x2="1350.32" y2="926.9" stroke="#000" stroke-width="2.5"/>
<line x1="1360.29" y1="923.5" x2="1360.29" y2="926.9" stroke="#000" stroke-width="2.5"/>
<line x1="1369.09" y1="923.5" x2="1369.09" y2="926.9" stroke="#000" stroke-width="2.5"/>
<line x1="1376.97" y1="923.5" x2="1376.97" y2="929.1" stroke="#000" stroke-width="2.5"/>
<text x="1379.52" y="957.6" text-anchor="middle" font-size="23.3" >1</text>
<line x1="1428.75" y1="923.5" x2="1428.75" y2="926.9" stroke="#000" stroke-width="2.5"/>
<line x1="1459.05" y1="923.5" x2="1459.05" y2="926.9" stroke="#000" stroke-width="2.5"/>
<line x1="1480.54" y1="923.5" x2="1480.54" y2="926.9" stroke="#000" stroke-width="2.5"/>
<line x1="1497.21" y1="923.5" x2="1497.21" y2="926.9" stroke="#000" stroke-width="2.5"/>
<line x1="1510.83" y1="923.5" x2="1510.83" y2="926.9" stroke="#000" stroke-width="2.5"/>
<line x1="1522.35" y1="923.5" x2="1522.35" y2="926.9" stroke="#000" stroke-width="2.5"/>
<line x1="1532.33" y1="923.5" x2="1532.33" y2="926.9" stroke="#000" stroke-width="2.5"/>
<line x1="1541.13" y1="923.5" x2="1541.13" y2="926.9" stroke="#000" stroke-width="2.5"/>
<line x1="1549" y1="923.5" x2="1549" y2="929.1" stroke="#000" stroke-width="2.5"/>
<text x="1551.55" y="957.6" text-anchor="middle" font-size="23.3" >10</text>
<text x="1274.2" y="987.8" text-anchor="middle" font-size="23.5" >Cisplatin (µM, log<tspan font-size="15.86" dy="6">10</tspan><tspan dy="-6">)</tspan></text>
<text text-anchor="middle" transform="translate(955.3,745.95) rotate(-90)" font-size="23.5" >Cell survival (%)</text>
<path d="M1033.4 608.5 L1036.4 608.82 L1039.4 609.16 L1042.4 609.52 L1045.4 609.92 L1048.4 610.34 L1051.4 610.79 L1054.4 611.27 L1057.4 611.78 L1060.4 612.33 L1063.4 612.92 L1066.4 613.54 L1069.4 614.21 L1072.4 614.92 L1075.4 615.67 L1078.4 616.47 L1081.4 617.32 L1084.4 618.22 L1087.4 619.17 L1090.4 620.17 L1093.4 621.23 L1096.4 622.35 L1099.4 623.54 L1102.4 624.79 L1105.4 626.12 L1108.4 627.52 L1111.4 628.99 L1114.4 630.56 L1117.4 632.2 L1120.4 633.94 L1123.4 635.78 L1126.4 637.71 L1129.4 639.74 L1132.4 641.88 L1135.4 644.12 L1138.4 646.48 L1141.4 648.95 L1144.4 651.54 L1147.4 654.25 L1150.4 657.07 L1153.4 660.01 L1156.4 663.06 L1159.4 666.23 L1162.4 669.52 L1165.4 672.93 L1168.4 676.44 L1171.4 680.07 L1174.4 683.81 L1177.4 687.65 L1180.4 691.6 L1183.4 695.64 L1186.4 699.78 L1189.4 704.01 L1192.4 708.35 L1195.4 712.77 L1198.4 717.28 L1201.4 721.86 L1204.4 726.51 L1207.4 731.21 L1210.4 735.96 L1213.4 740.74 L1216.4 745.55 L1219.4 750.37 L1222.4 755.19 L1225.4 760.01 L1228.4 764.8 L1231.4 769.56 L1234.4 774.28 L1237.4 778.95 L1240.4 783.54 L1243.4 788.03 L1246.4 792.4 L1249.4 796.67 L1252.4 800.83 L1255.4 804.88 L1258.4 808.83 L1261.4 812.68 L1264.4 816.43 L1267.4 820.08 L1270.4 823.64 L1273.4 827.12 L1276.4 830.51 L1279.4 833.82 L1282.4 837.06 L1285.4 840.24 L1288.4 843.36 L1291.4 846.43 L1294.4 849.43 L1297.4 852.35 L1300.4 855.19 L1303.4 857.94 L1306.4 860.61 L1309.4 863.19 L1312.4 865.68 L1315.4 868.07 L1318.4 870.36 L1321.4 872.56 L1324.4 874.65 L1327.4 876.64 L1330.4 878.52 L1333.4 880.29 L1336.4 881.95 L1339.4 883.51 L1342.4 884.94 L1345.4 886.3 L1348.4 887.57 L1351.4 888.78 L1354.4 889.91 L1357.4 890.98 L1360.4 891.99 L1363.4 892.94 L1366.4 893.84 L1369.4 894.69 L1372.4 895.49 L1375.4 896.25 L1378.4 896.96 L1381.4 897.64 L1384.4 898.28 L1387.4 898.9 L1390.4 899.48 L1393.4 900.04 L1396.4 900.57 L1399.4 901.08 L1402.4 901.56 L1405.4 902.02 L1408.4 902.46 L1411.4 902.87 L1414.4 903.27 L1417.4 903.64 L1420.4 904 L1423.4 904.33 L1426.4 904.65 L1429.4 904.94 L1432.4 905.22 L1435.4 905.49 L1438.4 905.73 L1441.4 905.95 L1444.4 906.16 L1447.4 906.36 L1450.4 906.54 L1453.4 906.71 L1456.4 906.87 L1459.4 907.02 L1462.4 907.16 L1465.4 907.29 L1468.4 907.41 L1471.4 907.53 L1474.4 907.63 L1477.4 907.73 L1480.4 907.82 L1483.4 907.91 L1486.4 907.99 L1489.4 908.06 L1492.4 908.12 L1495.4 908.18 L1496.7 908.2" stroke="#30288a" stroke-width="2.35" stroke-linejoin="round" stroke-linecap="round" fill="none"/>
<path d="M1033.4 575.1 L1036.4 575.34 L1039.4 575.58 L1042.4 575.84 L1045.4 576.11 L1048.4 576.39 L1051.4 576.68 L1054.4 576.98 L1057.4 577.3 L1060.4 577.63 L1063.4 577.98 L1066.4 578.34 L1069.4 578.72 L1072.4 579.11 L1075.4 579.52 L1078.4 579.95 L1081.4 580.4 L1084.4 580.87 L1087.4 581.35 L1090.4 581.85 L1093.4 582.37 L1096.4 582.91 L1099.4 583.48 L1102.4 584.06 L1105.4 584.68 L1108.4 585.32 L1111.4 585.99 L1114.4 586.69 L1117.4 587.42 L1120.4 588.19 L1123.4 588.99 L1126.4 589.84 L1129.4 590.72 L1132.4 591.64 L1135.4 592.61 L1138.4 593.62 L1141.4 594.67 L1144.4 595.76 L1147.4 596.9 L1150.4 598.07 L1153.4 599.3 L1156.4 600.57 L1159.4 601.89 L1162.4 603.25 L1165.4 604.67 L1168.4 606.14 L1171.4 607.67 L1174.4 609.24 L1177.4 610.88 L1180.4 612.57 L1183.4 614.32 L1186.4 616.12 L1189.4 618 L1192.4 619.97 L1195.4 622.01 L1198.4 624.14 L1201.4 626.34 L1204.4 628.61 L1207.4 630.96 L1210.4 633.38 L1213.4 635.86 L1216.4 638.41 L1219.4 641.03 L1222.4 643.7 L1225.4 646.43 L1228.4 649.21 L1231.4 652.05 L1234.4 654.93 L1237.4 657.86 L1240.4 660.83 L1243.4 663.87 L1246.4 666.96 L1249.4 670.11 L1252.4 673.32 L1255.4 676.59 L1258.4 679.92 L1261.4 683.29 L1264.4 686.73 L1267.4 690.21 L1270.4 693.74 L1273.4 697.32 L1276.4 700.95 L1279.4 704.61 L1282.4 708.32 L1285.4 712.07 L1288.4 715.85 L1291.4 719.66 L1294.4 723.48 L1297.4 727.29 L1300.4 731.12 L1303.4 734.94 L1306.4 738.77 L1309.4 742.6 L1312.4 746.43 L1315.4 750.26 L1318.4 754.1 L1321.4 757.94 L1324.4 761.78 L1327.4 765.61 L1330.4 769.45 L1333.4 773.29 L1336.4 777.13 L1339.4 780.98 L1342.4 784.82 L1345.4 788.66 L1348.4 792.49 L1351.4 796.3 L1354.4 800.09 L1357.4 803.86 L1360.4 807.59 L1363.4 811.28 L1366.4 814.93 L1369.4 818.53 L1372.4 822.07 L1375.4 825.55 L1378.4 828.96 L1381.4 832.31 L1384.4 835.58 L1387.4 838.77 L1390.4 841.88 L1393.4 844.9 L1396.4 847.84 L1399.4 850.72 L1402.4 853.53 L1405.4 856.28 L1408.4 858.95 L1411.4 861.56 L1414.4 864.09 L1417.4 866.56 L1420.4 868.95 L1423.4 871.27 L1426.4 873.52 L1429.4 875.69 L1432.4 877.79 L1435.4 879.82 L1438.4 881.78 L1441.4 883.66 L1444.4 885.48 L1447.4 887.21 L1450.4 888.87 L1453.4 890.44 L1456.4 891.94 L1459.4 893.36 L1462.4 894.71 L1465.4 895.99 L1468.4 897.2 L1471.4 898.35 L1474.4 899.43 L1477.4 900.45 L1480.4 901.41 L1483.4 902.32 L1486.4 903.17 L1489.4 903.96 L1492.4 904.71 L1495.4 905.41 L1496.7 905.7" stroke="#de2c10" stroke-width="2.35" stroke-linejoin="round" stroke-linecap="round" fill="none"/>
<path d="M1033.4 577.8V641.2M1029.2 577.8H1037.6M1029.2 641.2H1037.6M1082.7 615.5V626.7M1078.5 615.5H1086.9M1078.5 626.7H1086.9M1134.45 627.7V643.2M1130.25 627.7H1138.65M1130.25 643.2H1138.65M1186.2 691.8V714.7M1182 691.8H1190.4M1182 714.7H1190.4M1237.95 760.9V792.3M1233.75 760.9H1242.15M1233.75 792.3H1242.15M1289.7 837.9V845.4M1285.5 837.9H1293.9M1285.5 845.4H1293.9M1341.45 879.6V889.3M1337.25 879.6H1345.65M1337.25 889.3H1345.65M1393.2 896.3V906M1389 896.3H1397.4M1389 906H1397.4M1444.95 901.5V909.5M1440.75 901.5H1449.15M1440.75 909.5H1449.15M1496.7 906.5V910.5M1492.5 906.5H1500.9M1492.5 910.5H1500.9" stroke="#30288a" stroke-width="1.15" fill="none"/><g fill="#30288a"><circle cx="1033.4" cy="609.5" r="3.4"/><circle cx="1082.7" cy="621" r="3.4"/><circle cx="1134.45" cy="635.4" r="3.4"/><circle cx="1186.2" cy="703.2" r="3.4"/><circle cx="1237.95" cy="776.6" r="3.4"/><circle cx="1289.7" cy="841.9" r="3.4"/><circle cx="1341.45" cy="884.5" r="3.4"/><circle cx="1393.2" cy="901.3" r="3.4"/><circle cx="1444.95" cy="905.7" r="3.4"/><circle cx="1496.7" cy="908.5" r="3.4"/></g>
<path d="M1033.4 559.6V585.3M1029.2 559.6H1037.6M1029.2 585.3H1037.6M1082.7 558.6V616M1078.5 558.6H1086.9M1078.5 616H1086.9M1134.45 564.6V626.5M1130.25 564.6H1138.65M1130.25 626.5H1138.65M1186.2 586.8V617M1182 586.8H1190.4M1182 617H1190.4M1237.95 646.7V685.8M1233.75 646.7H1242.15M1233.75 685.8H1242.15M1289.7 702.7V739.4M1285.5 702.7H1293.9M1285.5 739.4H1293.9M1341.45 764.6V783.3M1337.25 764.6H1345.65M1337.25 783.3H1345.65M1393.2 836.7V847.4M1389 836.7H1397.4M1389 847.4H1397.4M1444.95 886.3V897M1440.75 886.3H1449.15M1440.75 897H1449.15M1496.7 895.8V905M1492.5 895.8H1500.9M1492.5 905H1500.9" stroke="#de2c10" stroke-width="1.15" fill="none"/><g fill="#de2c10"><circle cx="1033.4" cy="572.6" r="3.4"/><circle cx="1082.7" cy="587.6" r="3.4"/><circle cx="1134.45" cy="594.8" r="3.4"/><circle cx="1186.2" cy="602" r="3.4"/><circle cx="1237.95" cy="666.3" r="3.4"/><circle cx="1289.7" cy="721" r="3.4"/><circle cx="1341.45" cy="773.9" r="3.4"/><circle cx="1393.2" cy="842.2" r="3.4"/><circle cx="1444.95" cy="891.8" r="3.4"/><circle cx="1496.7" cy="900.3" r="3.4"/></g>
<line x1="1495.2" y1="569.1" x2="1533.4" y2="569.1" stroke="#de2c10" stroke-width="2.35" stroke-linecap="round"/>
<circle cx="1514.3" cy="569.1" r="3.4" fill="#de2c10"/>
<text x="1544.4" y="577.7" font-size="20" >Control</text>
<line x1="1495.2" y1="608.3" x2="1533.4" y2="608.3" stroke="#30288a" stroke-width="2.35" stroke-linecap="round"/>
<circle cx="1514.3" cy="608.3" r="3.4" fill="#30288a"/>
<text x="1544.1" y="614.6" font-size="19.9" >MCM8IP KO (sgRNA #2)</text>
<path d="M1483.8 569.8V607.2" stroke="#2a2a2a" stroke-width="1.2" fill="none"/>
<path d="M1481 569.8H1486.6M1481 607.2H1486.6" stroke="#1a1a1a" stroke-width="1.4" fill="none"/>
<text text-anchor="middle" transform="translate(1484.1,589.8) rotate(-90)" font-size="19" letter-spacing="1.81">**</text>
<text x="-1" y="1074.9" font-weight="bold" font-size="41" >e</text>
<line x1="136.3" y1="1077.8" x2="136.3" y2="1444.7" stroke="#000" stroke-width="2.5"/>
<line x1="126.3" y1="1434.7" x2="636.85" y2="1434.7" stroke="#000" stroke-width="2.2"/>
<text x="117.9" y="1443.2" text-anchor="end" font-size="23.3" >0</text>
<line x1="126.3" y1="1345.75" x2="136.3" y2="1345.75" stroke="#000" stroke-width="2.2"/>
<text x="117.9" y="1354.25" text-anchor="end" font-size="23.3" >25</text>
<line x1="126.3" y1="1256.8" x2="136.3" y2="1256.8" stroke="#000" stroke-width="2.2"/>
<text x="117.9" y="1265.3" text-anchor="end" font-size="23.3" >50</text>
<line x1="126.3" y1="1167.85" x2="136.3" y2="1167.85" stroke="#000" stroke-width="2.2"/>
<text x="117.9" y="1176.35" text-anchor="end" font-size="23.3" >75</text>
<line x1="126.3" y1="1078.9" x2="136.3" y2="1078.9" stroke="#000" stroke-width="2.2"/>
<text x="117.9" y="1087.4" text-anchor="end" font-size="23.3" >100</text>
<text x="135.9" y="1470.9" text-anchor="middle" font-size="23.3" >0.01</text>
<line x1="186.4" y1="1434.7" x2="186.4" y2="1440.6" stroke="#000" stroke-width="2.5"/>
<line x1="215.71" y1="1434.7" x2="215.71" y2="1440.6" stroke="#000" stroke-width="2.5"/>
<line x1="236.5" y1="1434.7" x2="236.5" y2="1440.6" stroke="#000" stroke-width="2.5"/>
<line x1="252.63" y1="1434.7" x2="252.63" y2="1440.6" stroke="#000" stroke-width="2.5"/>
<line x1="265.81" y1="1434.7" x2="265.81" y2="1440.6" stroke="#000" stroke-width="2.5"/>
<line x1="276.95" y1="1434.7" x2="276.95" y2="1440.6" stroke="#000" stroke-width="2.5"/>
<line x1="286.6" y1="1434.7" x2="286.6" y2="1440.6" stroke="#000" stroke-width="2.5"/>
<line x1="295.12" y1="1434.7" x2="295.12" y2="1440.6" stroke="#000" stroke-width="2.5"/>
<line x1="302.73" y1="1434.7" x2="302.73" y2="1444.7" stroke="#000" stroke-width="2.5"/>
<text x="302.33" y="1470.9" text-anchor="middle" font-size="23.3" >0.1</text>
<line x1="352.83" y1="1434.7" x2="352.83" y2="1440.6" stroke="#000" stroke-width="2.5"/>
<line x1="382.14" y1="1434.7" x2="382.14" y2="1440.6" stroke="#000" stroke-width="2.5"/>
<line x1="402.94" y1="1434.7" x2="402.94" y2="1440.6" stroke="#000" stroke-width="2.5"/>
<line x1="419.07" y1="1434.7" x2="419.07" y2="1440.6" stroke="#000" stroke-width="2.5"/>
<line x1="432.24" y1="1434.7" x2="432.24" y2="1440.6" stroke="#000" stroke-width="2.5"/>
<line x1="443.39" y1="1434.7" x2="443.39" y2="1440.6" stroke="#000" stroke-width="2.5"/>
<line x1="453.04" y1="1434.7" x2="453.04" y2="1440.6" stroke="#000" stroke-width="2.5"/>
<line x1="461.55" y1="1434.7" x2="461.55" y2="1440.6" stroke="#000" stroke-width="2.5"/>
<line x1="469.17" y1="1434.7" x2="469.17" y2="1444.7" stroke="#000" stroke-width="2.5"/>
<text x="468.77" y="1470.9" text-anchor="middle" font-size="23.3" >1</text>
<line x1="519.27" y1="1434.7" x2="519.27" y2="1440.6" stroke="#000" stroke-width="2.5"/>
<line x1="548.58" y1="1434.7" x2="548.58" y2="1440.6" stroke="#000" stroke-width="2.5"/>
<line x1="569.37" y1="1434.7" x2="569.37" y2="1440.6" stroke="#000" stroke-width="2.5"/>
<line x1="585.5" y1="1434.7" x2="585.5" y2="1440.6" stroke="#000" stroke-width="2.5"/>
<line x1="598.68" y1="1434.7" x2="598.68" y2="1440.6" stroke="#000" stroke-width="2.5"/>
<line x1="609.82" y1="1434.7" x2="609.82" y2="1440.6" stroke="#000" stroke-width="2.5"/>
<line x1="619.47" y1="1434.7" x2="619.47" y2="1440.6" stroke="#000" stroke-width="2.5"/>
<line x1="627.98" y1="1434.7" x2="627.98" y2="1440.6" stroke="#000" stroke-width="2.5"/>
<line x1="635.6" y1="1434.7" x2="635.6" y2="1444.7" stroke="#000" stroke-width="2.5"/>
<text x="635.2" y="1470.9" text-anchor="middle" font-size="23.3" >10</text>
<text x="382.1" y="1508" text-anchor="middle" font-size="23.5" >Cisplatin (µM, log<tspan font-size="15.86" dy="6">10</tspan><tspan dy="-6">)</tspan></text>
<text text-anchor="middle" transform="translate(64.2,1253.1) rotate(-90)" font-size="23.5" >Cell survival (%)</text>
<path d="M136.4 1106.6 L139.4 1106.92 L142.4 1107.26 L145.4 1107.62 L148.4 1108 L151.4 1108.4 L154.4 1108.83 L157.4 1109.28 L160.4 1109.75 L163.4 1110.26 L166.4 1110.79 L169.4 1111.36 L172.4 1111.96 L175.4 1112.6 L178.4 1113.27 L181.4 1113.99 L184.4 1114.75 L187.4 1115.55 L190.4 1116.38 L193.4 1117.25 L196.4 1118.17 L199.4 1119.13 L202.4 1120.15 L205.4 1121.22 L208.4 1122.37 L211.4 1123.58 L214.4 1124.86 L217.4 1126.23 L220.4 1127.69 L223.4 1129.24 L226.4 1130.88 L229.4 1132.63 L232.4 1134.49 L235.4 1136.46 L238.4 1138.55 L241.4 1140.75 L244.4 1143.07 L247.4 1145.5 L250.4 1148.05 L253.4 1150.73 L256.4 1153.52 L259.4 1156.42 L262.4 1159.45 L265.4 1162.6 L268.4 1165.87 L271.4 1169.25 L274.4 1172.75 L277.4 1176.37 L280.4 1180.1 L283.4 1183.94 L286.4 1187.89 L289.4 1191.95 L292.4 1196.14 L295.4 1200.43 L298.4 1204.84 L301.4 1209.34 L304.4 1213.93 L307.4 1218.61 L310.4 1223.37 L313.4 1228.2 L316.4 1233.08 L319.4 1238.02 L322.4 1243 L325.4 1248 L328.4 1253.03 L331.4 1258.07 L334.4 1263.1 L337.4 1268.11 L340.4 1273.08 L343.4 1277.99 L346.4 1282.86 L349.4 1287.66 L352.4 1292.41 L355.4 1297.09 L358.4 1301.71 L361.4 1306.26 L364.4 1310.75 L367.4 1315.16 L370.4 1319.5 L373.4 1323.77 L376.4 1327.97 L379.4 1332.1 L382.4 1336.17 L385.4 1340.16 L388.4 1344.08 L391.4 1347.89 L394.4 1351.6 L397.4 1355.2 L400.4 1358.7 L403.4 1362.08 L406.4 1365.35 L409.4 1368.51 L412.4 1371.55 L415.4 1374.47 L418.4 1377.28 L421.4 1379.96 L424.4 1382.53 L427.4 1384.99 L430.4 1387.33 L433.4 1389.55 L436.4 1391.66 L439.4 1393.66 L442.4 1395.58 L445.4 1397.4 L448.4 1399.13 L451.4 1400.78 L454.4 1402.35 L457.4 1403.84 L460.4 1405.25 L463.4 1406.6 L466.4 1407.87 L469.4 1409.08 L472.4 1410.22 L475.4 1411.31 L478.4 1412.34 L481.4 1413.32 L484.4 1414.24 L487.4 1415.12 L490.4 1415.95 L493.4 1416.75 L496.4 1417.5 L499.4 1418.22 L502.4 1418.9 L505.4 1419.55 L508.4 1420.16 L511.4 1420.75 L514.4 1421.3 L517.4 1421.82 L520.4 1422.32 L523.4 1422.79 L526.4 1423.23 L529.4 1423.64 L532.4 1424.03 L535.4 1424.4 L538.4 1424.75 L541.4 1425.07 L544.4 1425.38 L547.4 1425.67 L550.4 1425.94 L553.4 1426.2 L556.4 1426.45 L559.4 1426.68 L562.4 1426.89 L565.4 1427.1 L568.4 1427.29 L571.4 1427.47 L574.4 1427.65 L577.4 1427.81 L580.4 1427.96 L583.4 1428.1 L585.5 1428.2" stroke="#7cbe06" stroke-width="2.35" stroke-linejoin="round" stroke-linecap="round" fill="none"/>
<path d="M136.4 1097.8 L139.4 1097.99 L142.4 1098.19 L145.4 1098.41 L148.4 1098.64 L151.4 1098.89 L154.4 1099.15 L157.4 1099.42 L160.4 1099.72 L163.4 1100.03 L166.4 1100.36 L169.4 1100.71 L172.4 1101.08 L175.4 1101.47 L178.4 1101.88 L181.4 1102.31 L184.4 1102.77 L187.4 1103.25 L190.4 1103.75 L193.4 1104.27 L196.4 1104.82 L199.4 1105.4 L202.4 1106 L205.4 1106.64 L208.4 1107.3 L211.4 1108 L214.4 1108.74 L217.4 1109.51 L220.4 1110.32 L223.4 1111.17 L226.4 1112.07 L229.4 1113.01 L232.4 1114 L235.4 1115.04 L238.4 1116.13 L241.4 1117.26 L244.4 1118.44 L247.4 1119.67 L250.4 1120.95 L253.4 1122.28 L256.4 1123.66 L259.4 1125.1 L262.4 1126.6 L265.4 1128.15 L268.4 1129.76 L271.4 1131.44 L274.4 1133.17 L277.4 1134.97 L280.4 1136.83 L283.4 1138.76 L286.4 1140.76 L289.4 1142.82 L292.4 1144.96 L295.4 1147.17 L298.4 1149.45 L301.4 1151.8 L304.4 1154.23 L307.4 1156.74 L310.4 1159.33 L313.4 1161.99 L316.4 1164.73 L319.4 1167.55 L322.4 1170.44 L325.4 1173.42 L328.4 1176.47 L331.4 1179.61 L334.4 1182.82 L337.4 1186.12 L340.4 1189.52 L343.4 1193.04 L346.4 1196.64 L349.4 1200.34 L352.4 1204.12 L355.4 1207.98 L358.4 1211.9 L361.4 1215.88 L364.4 1219.92 L367.4 1223.99 L370.4 1228.11 L373.4 1232.24 L376.4 1236.4 L379.4 1240.57 L382.4 1244.73 L385.4 1248.88 L388.4 1252.99 L391.4 1257.04 L394.4 1261.03 L397.4 1264.97 L400.4 1268.87 L403.4 1272.74 L406.4 1276.58 L409.4 1280.41 L412.4 1284.22 L415.4 1288.02 L418.4 1291.83 L421.4 1295.65 L424.4 1299.49 L427.4 1303.35 L430.4 1307.24 L433.4 1311.17 L436.4 1315.14 L439.4 1319.14 L442.4 1323.14 L445.4 1327.14 L448.4 1331.11 L451.4 1335.06 L454.4 1338.97 L457.4 1342.82 L460.4 1346.62 L463.4 1350.35 L466.4 1354 L469.4 1357.57 L472.4 1361.03 L475.4 1364.4 L478.4 1367.64 L481.4 1370.76 L484.4 1373.75 L487.4 1376.62 L490.4 1379.4 L493.4 1382.1 L496.4 1384.72 L499.4 1387.26 L502.4 1389.72 L505.4 1392.11 L508.4 1394.41 L511.4 1396.65 L514.4 1398.8 L517.4 1400.89 L520.4 1402.91 L523.4 1404.86 L526.4 1406.74 L529.4 1408.56 L532.4 1410.31 L535.4 1412.01 L538.4 1413.64 L541.4 1415.21 L544.4 1416.73 L547.4 1418.19 L550.4 1419.59 L553.4 1420.94 L556.4 1422.24 L559.4 1423.48 L562.4 1424.68 L565.4 1425.83 L568.4 1426.93 L571.4 1427.99 L574.4 1429 L577.4 1429.97 L580.4 1430.9 L583.4 1431.8 L585.5 1432.4" stroke="#9e1e18" stroke-width="2.35" stroke-linejoin="round" stroke-linecap="round" fill="none"/>
<path d="M136.4 1092.4 L139.4 1092.79 L142.4 1093.2 L145.4 1093.63 L148.4 1094.08 L151.4 1094.57 L154.4 1095.08 L157.4 1095.62 L160.4 1096.19 L163.4 1096.8 L166.4 1097.45 L169.4 1098.13 L172.4 1098.86 L175.4 1099.63 L178.4 1100.45 L181.4 1101.32 L184.4 1102.24 L187.4 1103.2 L190.4 1104.19 L193.4 1105.22 L196.4 1106.3 L199.4 1107.42 L202.4 1108.61 L205.4 1109.86 L208.4 1111.19 L211.4 1112.61 L214.4 1114.11 L217.4 1115.71 L220.4 1117.42 L223.4 1119.25 L226.4 1121.2 L229.4 1123.28 L232.4 1125.49 L235.4 1127.85 L238.4 1130.37 L241.4 1133.04 L244.4 1135.86 L247.4 1138.84 L250.4 1141.96 L253.4 1145.22 L256.4 1148.63 L259.4 1152.17 L262.4 1155.85 L265.4 1159.66 L268.4 1163.6 L271.4 1167.65 L274.4 1171.82 L277.4 1176.1 L280.4 1180.48 L283.4 1184.95 L286.4 1189.5 L289.4 1194.17 L292.4 1198.94 L295.4 1203.81 L298.4 1208.76 L301.4 1213.81 L304.4 1218.93 L307.4 1224.11 L310.4 1229.35 L313.4 1234.64 L316.4 1239.96 L319.4 1245.31 L322.4 1250.67 L325.4 1256.04 L328.4 1261.4 L331.4 1266.74 L334.4 1272.05 L337.4 1277.31 L340.4 1282.47 L343.4 1287.54 L346.4 1292.5 L349.4 1297.37 L352.4 1302.13 L355.4 1306.78 L358.4 1311.33 L361.4 1315.77 L364.4 1320.1 L367.4 1324.33 L370.4 1328.45 L373.4 1332.47 L376.4 1336.4 L379.4 1340.23 L382.4 1343.97 L385.4 1347.62 L388.4 1351.18 L391.4 1354.63 L394.4 1357.98 L397.4 1361.21 L400.4 1364.32 L403.4 1367.33 L406.4 1370.21 L409.4 1372.99 L412.4 1375.64 L415.4 1378.18 L418.4 1380.6 L421.4 1382.9 L424.4 1385.09 L427.4 1387.17 L430.4 1389.13 L433.4 1390.97 L436.4 1392.7 L439.4 1394.34 L442.4 1395.89 L445.4 1397.37 L448.4 1398.76 L451.4 1400.08 L454.4 1401.33 L457.4 1402.51 L460.4 1403.62 L463.4 1404.67 L466.4 1405.66 L469.4 1406.6 L472.4 1407.48 L475.4 1408.31 L478.4 1409.09 L481.4 1409.82 L484.4 1410.51 L487.4 1411.15 L490.4 1411.76 L493.4 1412.33 L496.4 1412.87 L499.4 1413.38 L502.4 1413.85 L505.4 1414.3 L508.4 1414.72 L511.4 1415.11 L514.4 1415.48 L517.4 1415.83 L520.4 1416.15 L523.4 1416.46 L526.4 1416.75 L529.4 1417.01 L532.4 1417.27 L535.4 1417.5 L538.4 1417.72 L541.4 1417.92 L544.4 1418.11 L547.4 1418.28 L550.4 1418.44 L553.4 1418.58 L556.4 1418.71 L559.4 1418.84 L562.4 1418.94 L565.4 1419.04 L568.4 1419.13 L571.4 1419.22 L574.4 1419.29 L577.4 1419.36 L580.4 1419.41 L583.4 1419.47 L585.5 1419.5" stroke="#30288a" stroke-width="2.35" stroke-linejoin="round" stroke-linecap="round" fill="none"/>
<path d="M136.4 1088.6V1109.3M132.2 1088.6H140.6M132.2 1109.3H140.6M184.6 1108.6V1141M180.4 1108.6H188.8M180.4 1141H188.8M234.71 1127.3V1148.5M230.51 1127.3H238.91M230.51 1148.5H238.91M284.82 1168.4V1201.6M280.62 1168.4H289.02M280.62 1201.6H289.02M334.94 1245.9V1277.7M330.74 1245.9H339.14M330.74 1277.7H339.14M385.05 1329V1344.7M380.85 1329H389.25M380.85 1344.7H389.25M435.16 1381.6V1395.8M430.96 1381.6H439.36M430.96 1395.8H439.36M485.27 1415.7V1421.4M481.07 1415.7H489.47M481.07 1421.4H489.47M535.39 1422V1427.7M531.19 1422H539.59M531.19 1427.7H539.59M585.5 1424V1430M581.3 1424H589.7M581.3 1430H589.7" stroke="#7cbe06" stroke-width="1.15" fill="none"/><g fill="#7cbe06"><circle cx="136.4" cy="1099.1" r="3.4"/><circle cx="184.6" cy="1125" r="3.4"/><circle cx="234.71" cy="1138.5" r="3.4"/><circle cx="284.82" cy="1184.6" r="3.4"/><circle cx="334.94" cy="1261.9" r="3.4"/><circle cx="385.05" cy="1335.9" r="3.4"/><circle cx="435.16" cy="1389.5" r="3.4"/><circle cx="485.27" cy="1419" r="3.4"/><circle cx="535.39" cy="1425" r="3.4"/><circle cx="585.5" cy="1426.9" r="3.4"/></g>
<path d="M136.4 1087.4V1127.3M132.2 1087.4H140.6M132.2 1127.3H140.6M184.6 1085.6V1120.3M180.4 1085.6H188.8M180.4 1120.3H188.8M234.71 1093.9V1127.3M230.51 1093.9H238.91M230.51 1127.3H238.91M284.82 1100.3V1166.4M280.62 1100.3H289.02M280.62 1166.4H289.02M334.94 1166.7V1212.3M330.74 1166.7H339.14M330.74 1212.3H339.14M385.05 1228.2V1267.8M380.85 1228.2H389.25M380.85 1267.8H389.25M435.16 1290.1V1318.2M430.96 1290.1H439.36M430.96 1318.2H439.36M485.27 1365.8V1380.1M481.07 1365.8H489.47M481.07 1380.1H489.47M535.39 1418V1422.4M531.19 1418H539.59M531.19 1422.4H539.59M585.5 1424.4V1428.4M581.3 1424.4H589.7M581.3 1428.4H589.7" stroke="#9e1e18" stroke-width="1.15" fill="none"/><g fill="#9e1e18"><circle cx="136.4" cy="1101.8" r="3.4"/><circle cx="184.6" cy="1102.8" r="3.4"/><circle cx="234.71" cy="1110.6" r="3.4"/><circle cx="284.82" cy="1133.2" r="3.4"/><circle cx="334.94" cy="1189.6" r="3.4"/><circle cx="385.05" cy="1247.4" r="3.4"/><circle cx="435.16" cy="1304.3" r="3.4"/><circle cx="485.27" cy="1372.6" r="3.4"/><circle cx="535.39" cy="1420.2" r="3.4"/><circle cx="585.5" cy="1426.4" r="3.4"/></g>
<path d="M136.4 1078.6V1094.8M132.2 1078.6H140.6M132.2 1094.8H140.6M184.6 1094.4V1132.7M180.4 1094.4H188.8M180.4 1132.7H188.8M234.71 1100.6V1145M230.51 1100.6H238.91M230.51 1145H238.91M284.82 1168.9V1204.5M280.62 1168.9H289.02M280.62 1204.5H289.02M334.94 1261.1V1284M330.74 1261.1H339.14M330.74 1284H339.14M385.05 1327.7V1361.9M380.85 1327.7H389.25M380.85 1361.9H389.25M435.16 1379.6V1403.2M430.96 1379.6H439.36M430.96 1403.2H439.36M485.27 1405.2V1419.5M481.07 1405.2H489.47M481.07 1419.5H489.47M535.39 1410V1423.2M531.19 1410H539.59M531.19 1423.2H539.59M585.5 1414.5V1422.4M581.3 1414.5H589.7M581.3 1422.4H589.7" stroke="#30288a" stroke-width="1.15" fill="none"/><g fill="#30288a"><circle cx="136.4" cy="1086.6" r="3.4"/><circle cx="184.6" cy="1113.5" r="3.4"/><circle cx="234.71" cy="1122.8" r="3.4"/><circle cx="284.82" cy="1186.6" r="3.4"/><circle cx="334.94" cy="1272.5" r="3.4"/><circle cx="385.05" cy="1344.2" r="3.4"/><circle cx="435.16" cy="1391.3" r="3.4"/><circle cx="485.27" cy="1412.5" r="3.4"/><circle cx="535.39" cy="1417" r="3.4"/><circle cx="585.5" cy="1418.7" r="3.4"/></g>
<text x="579.5" y="1092" font-size="20" >MCM8IP KO +</text>
<line x1="580.7" y1="1125.8" x2="618" y2="1125.8" stroke="#30288a" stroke-width="2.35" stroke-linecap="round"/>
<circle cx="599.35" cy="1125.8" r="3.4" fill="#30288a"/>
<text x="626.8" y="1133.3" font-size="20" >EV</text>
<line x1="580.7" y1="1163.4" x2="618" y2="1163.4" stroke="#9e1e18" stroke-width="2.35" stroke-linecap="round"/>
<circle cx="599.35" cy="1163.4" r="3.4" fill="#9e1e18"/>
<text x="626.8" y="1170.3" font-size="20" >MCM8IP WT</text>
<line x1="580.7" y1="1200.8" x2="618" y2="1200.8" stroke="#7cbe06" stroke-width="2.35" stroke-linecap="round"/>
<circle cx="599.35" cy="1200.8" r="3.4" fill="#7cbe06"/>
<text x="626.8" y="1206.9" font-size="20" >MCM8IP MBM #2</text>
<path d="M554 1124.5V1201.8" stroke="#4c4c4c" stroke-width="1.2" fill="none"/>
<path d="M551.2 1124.5H556.8M551.2 1201.8H556.8" stroke="#1a1a1a" stroke-width="1.4" fill="none"/>
<path d="M571 1124.5V1161.5" stroke="#2a2a2a" stroke-width="1.2" fill="none"/>
<path d="M568.2 1124.5H573.8M568.2 1161.5H573.8" stroke="#1a1a1a" stroke-width="1.4" fill="none"/>
<path d="M571 1165.4V1201.8" stroke="#2a2a2a" stroke-width="1.2" fill="none"/>
<path d="M568.2 1165.4H573.8M568.2 1201.8H573.8" stroke="#1a1a1a" stroke-width="1.4" fill="none"/>
<text text-anchor="middle" transform="translate(549.2,1162.2) rotate(-90)" font-size="15.5" >n.s.</text>
<text text-anchor="middle" transform="translate(574.2,1143.5) rotate(-90)" font-size="19" letter-spacing="1.81">***</text>
<text text-anchor="middle" transform="translate(574.2,1183.9) rotate(-90)" font-size="19" letter-spacing="1.81">**</text>
<text x="935" y="1075.7" font-weight="bold" font-size="41" >f</text>
<line x1="1037.4" y1="1075.5" x2="1037.4" y2="1444.9" stroke="#000" stroke-width="2.5"/>
<line x1="1027.4" y1="1434.9" x2="1541.25" y2="1434.9" stroke="#000" stroke-width="2.2"/>
<text x="1018.9" y="1443.75" text-anchor="end" font-size="23.3" >0</text>
<line x1="1027.4" y1="1345.33" x2="1037.4" y2="1345.33" stroke="#000" stroke-width="2.2"/>
<text x="1018.9" y="1354.17" text-anchor="end" font-size="23.3" >25</text>
<line x1="1027.4" y1="1255.75" x2="1037.4" y2="1255.75" stroke="#000" stroke-width="2.2"/>
<text x="1018.9" y="1264.6" text-anchor="end" font-size="23.3" >50</text>
<line x1="1027.4" y1="1166.17" x2="1037.4" y2="1166.17" stroke="#000" stroke-width="2.2"/>
<text x="1018.9" y="1175.02" text-anchor="end" font-size="23.3" >75</text>
<line x1="1027.4" y1="1076.6" x2="1037.4" y2="1076.6" stroke="#000" stroke-width="2.2"/>
<text x="1018.9" y="1085.45" text-anchor="end" font-size="23.3" >100</text>
<text x="1036.4" y="1470.9" text-anchor="middle" font-size="23.3" >0.001</text>
<line x1="1075.22" y1="1434.9" x2="1075.22" y2="1440.8" stroke="#000" stroke-width="2.5"/>
<line x1="1097.35" y1="1434.9" x2="1097.35" y2="1440.8" stroke="#000" stroke-width="2.5"/>
<line x1="1113.05" y1="1434.9" x2="1113.05" y2="1440.8" stroke="#000" stroke-width="2.5"/>
<line x1="1125.23" y1="1434.9" x2="1125.23" y2="1440.8" stroke="#000" stroke-width="2.5"/>
<line x1="1135.17" y1="1434.9" x2="1135.17" y2="1440.8" stroke="#000" stroke-width="2.5"/>
<line x1="1143.59" y1="1434.9" x2="1143.59" y2="1440.8" stroke="#000" stroke-width="2.5"/>
<line x1="1150.87" y1="1434.9" x2="1150.87" y2="1440.8" stroke="#000" stroke-width="2.5"/>
<line x1="1157.3" y1="1434.9" x2="1157.3" y2="1440.8" stroke="#000" stroke-width="2.5"/>
<line x1="1163.05" y1="1434.9" x2="1163.05" y2="1444.9" stroke="#000" stroke-width="2.5"/>
<text x="1162.05" y="1470.9" text-anchor="middle" font-size="23.3" >0.01</text>
<line x1="1200.87" y1="1434.9" x2="1200.87" y2="1440.8" stroke="#000" stroke-width="2.5"/>
<line x1="1223" y1="1434.9" x2="1223" y2="1440.8" stroke="#000" stroke-width="2.5"/>
<line x1="1238.7" y1="1434.9" x2="1238.7" y2="1440.8" stroke="#000" stroke-width="2.5"/>
<line x1="1250.88" y1="1434.9" x2="1250.88" y2="1440.8" stroke="#000" stroke-width="2.5"/>
<line x1="1260.82" y1="1434.9" x2="1260.82" y2="1440.8" stroke="#000" stroke-width="2.5"/>
<line x1="1269.24" y1="1434.9" x2="1269.24" y2="1440.8" stroke="#000" stroke-width="2.5"/>
<line x1="1276.52" y1="1434.9" x2="1276.52" y2="1440.8" stroke="#000" stroke-width="2.5"/>
<line x1="1282.95" y1="1434.9" x2="1282.95" y2="1440.8" stroke="#000" stroke-width="2.5"/>
<line x1="1288.7" y1="1434.9" x2="1288.7" y2="1444.9" stroke="#000" stroke-width="2.5"/>
<text x="1287.7" y="1470.9" text-anchor="middle" font-size="23.3" >0.1</text>
<line x1="1326.52" y1="1434.9" x2="1326.52" y2="1440.8" stroke="#000" stroke-width="2.5"/>
<line x1="1348.65" y1="1434.9" x2="1348.65" y2="1440.8" stroke="#000" stroke-width="2.5"/>
<line x1="1364.35" y1="1434.9" x2="1364.35" y2="1440.8" stroke="#000" stroke-width="2.5"/>
<line x1="1376.53" y1="1434.9" x2="1376.53" y2="1440.8" stroke="#000" stroke-width="2.5"/>
<line x1="1386.47" y1="1434.9" x2="1386.47" y2="1440.8" stroke="#000" stroke-width="2.5"/>
<line x1="1394.89" y1="1434.9" x2="1394.89" y2="1440.8" stroke="#000" stroke-width="2.5"/>
<line x1="1402.17" y1="1434.9" x2="1402.17" y2="1440.8" stroke="#000" stroke-width="2.5"/>
<line x1="1408.6" y1="1434.9" x2="1408.6" y2="1440.8" stroke="#000" stroke-width="2.5"/>
<line x1="1414.35" y1="1434.9" x2="1414.35" y2="1444.9" stroke="#000" stroke-width="2.5"/>
<text x="1413.35" y="1470.9" text-anchor="middle" font-size="23.3" >1</text>
<line x1="1452.17" y1="1434.9" x2="1452.17" y2="1440.8" stroke="#000" stroke-width="2.5"/>
<line x1="1474.3" y1="1434.9" x2="1474.3" y2="1440.8" stroke="#000" stroke-width="2.5"/>
<line x1="1490" y1="1434.9" x2="1490" y2="1440.8" stroke="#000" stroke-width="2.5"/>
<line x1="1502.18" y1="1434.9" x2="1502.18" y2="1440.8" stroke="#000" stroke-width="2.5"/>
<line x1="1512.12" y1="1434.9" x2="1512.12" y2="1440.8" stroke="#000" stroke-width="2.5"/>
<line x1="1520.54" y1="1434.9" x2="1520.54" y2="1440.8" stroke="#000" stroke-width="2.5"/>
<line x1="1527.82" y1="1434.9" x2="1527.82" y2="1440.8" stroke="#000" stroke-width="2.5"/>
<line x1="1534.25" y1="1434.9" x2="1534.25" y2="1440.8" stroke="#000" stroke-width="2.5"/>
<line x1="1540" y1="1434.9" x2="1540" y2="1444.9" stroke="#000" stroke-width="2.5"/>
<text x="1539" y="1470.9" text-anchor="middle" font-size="23.3" >10</text>
<text x="1286.9" y="1508" text-anchor="middle" font-size="23.5" >Olaparib (µM, log<tspan font-size="15.86" dy="6">10</tspan><tspan dy="-6">)</tspan></text>
<text text-anchor="middle" transform="translate(955.3,1259.75) rotate(-90)" font-size="23.5" >Cell survival (%)</text>
<path d="M1123.9 1136 L1126.9 1137.3 L1129.9 1138.63 L1132.9 1140 L1135.9 1141.42 L1138.9 1142.88 L1141.9 1144.39 L1144.9 1145.96 L1147.9 1147.58 L1150.9 1149.27 L1153.9 1151.01 L1156.9 1152.83 L1159.9 1154.72 L1162.9 1156.68 L1165.9 1158.68 L1168.9 1160.71 L1171.9 1162.78 L1174.9 1164.88 L1177.9 1167.02 L1180.9 1169.19 L1183.9 1171.39 L1186.9 1173.62 L1189.9 1175.89 L1192.9 1178.19 L1195.9 1180.52 L1198.9 1182.89 L1201.9 1185.29 L1204.9 1187.76 L1207.9 1190.29 L1210.9 1192.86 L1213.9 1195.49 L1216.9 1198.15 L1219.9 1200.85 L1222.9 1203.58 L1225.9 1206.34 L1228.9 1209.11 L1231.9 1211.9 L1234.9 1214.7 L1237.9 1217.5 L1240.9 1220.31 L1243.9 1223.14 L1246.9 1225.99 L1249.9 1228.85 L1252.9 1231.73 L1255.9 1234.62 L1258.9 1237.53 L1261.9 1240.45 L1264.9 1243.38 L1267.9 1246.32 L1270.9 1249.27 L1273.9 1252.23 L1276.9 1255.19 L1279.9 1258.17 L1282.9 1261.16 L1285.9 1264.15 L1288.9 1267.15 L1291.9 1270.15 L1294.9 1273.14 L1297.9 1276.13 L1300.9 1279.11 L1303.9 1282.08 L1306.9 1285.03 L1309.9 1287.97 L1312.9 1290.89 L1315.9 1293.77 L1318.9 1296.59 L1321.9 1299.36 L1324.9 1302.09 L1327.9 1304.77 L1330.9 1307.42 L1333.9 1310.05 L1336.9 1312.65 L1339.9 1315.25 L1342.9 1317.84 L1345.9 1320.42 L1348.9 1323.02 L1351.9 1325.63 L1354.9 1328.22 L1357.9 1330.78 L1360.9 1333.32 L1363.9 1335.84 L1366.9 1338.34 L1369.9 1340.82 L1372.9 1343.27 L1375.9 1345.71 L1378.9 1348.13 L1381.9 1350.54 L1384.9 1352.93 L1387.9 1355.3 L1390.9 1357.67 L1393.9 1360.02 L1396.9 1362.35 L1399.9 1364.66 L1402.9 1366.95 L1405.9 1369.22 L1408.9 1371.46 L1411.9 1373.68 L1414.9 1375.87 L1417.9 1378.02 L1420.9 1380.15 L1423.9 1382.23 L1426.9 1384.29 L1429.9 1386.31 L1432.9 1388.3 L1435.9 1390.27 L1438.9 1392.21 L1441.9 1394.12 L1444.9 1396 L1447.9 1397.86 L1450.9 1399.69 L1453.9 1401.48 L1456.9 1403.26 L1459.9 1405 L1462.9 1406.71 L1464.3 1407.5" stroke="#7cbe06" stroke-width="2.35" stroke-linejoin="round" stroke-linecap="round" fill="none"/>
<path d="M1123.9 1115.3 L1126.9 1116.64 L1129.9 1117.99 L1132.9 1119.37 L1135.9 1120.76 L1138.9 1122.17 L1141.9 1123.59 L1144.9 1125.04 L1147.9 1126.5 L1150.9 1127.99 L1153.9 1129.49 L1156.9 1131.01 L1159.9 1132.55 L1162.9 1134.12 L1165.9 1135.69 L1168.9 1137.29 L1171.9 1138.9 L1174.9 1140.53 L1177.9 1142.18 L1180.9 1143.85 L1183.9 1145.54 L1186.9 1147.25 L1189.9 1148.98 L1192.9 1150.73 L1195.9 1152.51 L1198.9 1154.31 L1201.9 1156.14 L1204.9 1158 L1207.9 1159.89 L1210.9 1161.81 L1213.9 1163.76 L1216.9 1165.73 L1219.9 1167.72 L1222.9 1169.73 L1225.9 1171.76 L1228.9 1173.8 L1231.9 1175.85 L1234.9 1177.9 L1237.9 1179.97 L1240.9 1182.04 L1243.9 1184.13 L1246.9 1186.24 L1249.9 1188.36 L1252.9 1190.5 L1255.9 1192.66 L1258.9 1194.83 L1261.9 1197.03 L1264.9 1199.24 L1267.9 1201.48 L1270.9 1203.74 L1273.9 1206.01 L1276.9 1208.32 L1279.9 1210.66 L1282.9 1213.04 L1285.9 1215.45 L1288.9 1217.88 L1291.9 1220.35 L1294.9 1222.83 L1297.9 1225.33 L1300.9 1227.83 L1303.9 1230.35 L1306.9 1232.87 L1309.9 1235.39 L1312.9 1237.91 L1315.9 1240.41 L1318.9 1242.89 L1321.9 1245.36 L1324.9 1247.82 L1327.9 1250.28 L1330.9 1252.75 L1333.9 1255.24 L1336.9 1257.75 L1339.9 1260.29 L1342.9 1262.87 L1345.9 1265.48 L1348.9 1268.15 L1351.9 1270.87 L1354.9 1273.63 L1357.9 1276.42 L1360.9 1279.23 L1363.9 1282.06 L1366.9 1284.91 L1369.9 1287.78 L1372.9 1290.67 L1375.9 1293.57 L1378.9 1296.48 L1381.9 1299.4 L1384.9 1302.33 L1387.9 1305.26 L1390.9 1308.19 L1393.9 1311.12 L1396.9 1314.03 L1399.9 1316.95 L1402.9 1319.87 L1405.9 1322.8 L1408.9 1325.74 L1411.9 1328.69 L1414.9 1331.66 L1417.9 1334.66 L1420.9 1337.69 L1423.9 1340.74 L1426.9 1343.84 L1429.9 1346.96 L1432.9 1350.11 L1435.9 1353.29 L1438.9 1356.49 L1441.9 1359.72 L1444.9 1362.97 L1447.9 1366.24 L1450.9 1369.54 L1453.9 1372.85 L1456.9 1376.19 L1459.9 1379.54 L1462.9 1382.92 L1464.3 1384.5" stroke="#9e1e18" stroke-width="2.35" stroke-linejoin="round" stroke-linecap="round" fill="none"/>
<path d="M1123.9 1132.7 L1126.9 1134.47 L1129.9 1136.27 L1132.9 1138.1 L1135.9 1139.95 L1138.9 1141.84 L1141.9 1143.76 L1144.9 1145.71 L1147.9 1147.69 L1150.9 1149.7 L1153.9 1151.74 L1156.9 1153.81 L1159.9 1155.91 L1162.9 1158.04 L1165.9 1160.19 L1168.9 1162.35 L1171.9 1164.54 L1174.9 1166.76 L1177.9 1169 L1180.9 1171.28 L1183.9 1173.59 L1186.9 1175.93 L1189.9 1178.32 L1192.9 1180.75 L1195.9 1183.23 L1198.9 1185.75 L1201.9 1188.33 L1204.9 1190.96 L1207.9 1193.64 L1210.9 1196.37 L1213.9 1199.13 L1216.9 1201.93 L1219.9 1204.75 L1222.9 1207.6 L1225.9 1210.47 L1228.9 1213.35 L1231.9 1216.24 L1234.9 1219.13 L1237.9 1222.01 L1240.9 1224.9 L1243.9 1227.8 L1246.9 1230.71 L1249.9 1233.62 L1252.9 1236.54 L1255.9 1239.47 L1258.9 1242.41 L1261.9 1245.36 L1264.9 1248.31 L1267.9 1251.27 L1270.9 1254.24 L1273.9 1257.22 L1276.9 1260.2 L1279.9 1263.2 L1282.9 1266.21 L1285.9 1269.23 L1288.9 1272.24 L1291.9 1275.26 L1294.9 1278.26 L1297.9 1281.26 L1300.9 1284.24 L1303.9 1287.19 L1306.9 1290.13 L1309.9 1293.03 L1312.9 1295.89 L1315.9 1298.71 L1318.9 1301.45 L1321.9 1304.14 L1324.9 1306.77 L1327.9 1309.36 L1330.9 1311.92 L1333.9 1314.44 L1336.9 1316.94 L1339.9 1319.43 L1342.9 1321.91 L1345.9 1324.39 L1348.9 1326.89 L1351.9 1329.39 L1354.9 1331.88 L1357.9 1334.34 L1360.9 1336.78 L1363.9 1339.2 L1366.9 1341.6 L1369.9 1343.97 L1372.9 1346.32 L1375.9 1348.66 L1378.9 1350.98 L1381.9 1353.28 L1384.9 1355.56 L1387.9 1357.83 L1390.9 1360.09 L1393.9 1362.36 L1396.9 1364.63 L1399.9 1366.9 L1402.9 1369.15 L1405.9 1371.38 L1408.9 1373.59 L1411.9 1375.78 L1414.9 1377.93 L1417.9 1380.04 L1420.9 1382.1 L1423.9 1384.12 L1426.9 1386.07 L1429.9 1387.99 L1432.9 1389.87 L1435.9 1391.71 L1438.9 1393.53 L1441.9 1395.31 L1444.9 1397.05 L1447.9 1398.76 L1450.9 1400.44 L1453.9 1402.08 L1456.9 1403.69 L1459.9 1405.26 L1462.9 1406.8 L1464.3 1407.5" stroke="#30288a" stroke-width="2.35" stroke-linejoin="round" stroke-linecap="round" fill="none"/>
<path d="M1123.9 1135V1138M1119.7 1135H1128.1M1119.7 1138H1128.1M1161.72 1143.6V1162.7M1157.52 1143.6H1165.92M1157.52 1162.7H1165.92M1199.54 1176.6V1184.1M1195.34 1176.6H1203.74M1195.34 1184.1H1203.74M1237.37 1198.6V1224.5M1233.17 1198.6H1241.57M1233.17 1224.5H1241.57M1275.19 1240V1254.9M1270.99 1240H1279.39M1270.99 1254.9H1279.39M1313.01 1284.8V1294.8M1308.81 1284.8H1317.21M1308.81 1294.8H1317.21M1350.83 1321.7V1328.5M1346.63 1321.7H1355.03M1346.63 1328.5H1355.03M1388.66 1341.7V1347.9M1384.46 1341.7H1392.86M1384.46 1347.9H1392.86M1426.48 1381.5V1385M1422.28 1381.5H1430.68M1422.28 1385H1430.68M1464.3 1408.4V1412M1460.1 1408.4H1468.5M1460.1 1412H1468.5" stroke="#7cbe06" stroke-width="1.15" fill="none"/><g fill="#7cbe06"><circle cx="1123.9" cy="1136.5" r="3.4"/><circle cx="1161.72" cy="1153.4" r="3.4"/><circle cx="1199.54" cy="1180.1" r="3.4"/><circle cx="1237.37" cy="1211.5" r="3.4"/><circle cx="1275.19" cy="1247.4" r="3.4"/><circle cx="1313.01" cy="1289.8" r="3.4"/><circle cx="1350.83" cy="1324.7" r="3.4"/><circle cx="1388.66" cy="1344.7" r="3.4"/><circle cx="1426.48" cy="1383.3" r="3.4"/><circle cx="1464.3" cy="1410.2" r="3.4"/></g>
<path d="M1123.9 1108.6V1131M1119.7 1108.6H1128.1M1119.7 1131H1128.1M1161.72 1101.3V1160.9M1157.52 1101.3H1165.92M1157.52 1160.9H1165.92M1199.54 1141V1152.2M1195.34 1141H1203.74M1195.34 1152.2H1203.74M1237.37 1164.4V1183.4M1233.17 1164.4H1241.57M1233.17 1183.4H1241.57M1275.19 1193.8V1226.8M1270.99 1193.8H1279.39M1270.99 1226.8H1279.39M1313.01 1233.6V1260.4M1308.81 1233.6H1317.21M1308.81 1260.4H1317.21M1350.83 1250.4V1287.1M1346.63 1250.4H1355.03M1346.63 1287.1H1355.03M1388.66 1280.8V1310M1384.46 1280.8H1392.86M1384.46 1310H1392.86M1426.48 1336.4V1358.4M1422.28 1336.4H1430.68M1422.28 1358.4H1430.68M1464.3 1378.6V1395M1460.1 1378.6H1468.5M1460.1 1395H1468.5" stroke="#9e1e18" stroke-width="1.15" fill="none"/><g fill="#9e1e18"><circle cx="1123.9" cy="1120" r="3.4"/><circle cx="1161.72" cy="1131" r="3.4"/><circle cx="1199.54" cy="1146.5" r="3.4"/><circle cx="1237.37" cy="1174.4" r="3.4"/><circle cx="1275.19" cy="1210" r="3.4"/><circle cx="1313.01" cy="1246.9" r="3.4"/><circle cx="1350.83" cy="1268.6" r="3.4"/><circle cx="1388.66" cy="1295.3" r="3.4"/><circle cx="1426.48" cy="1347.4" r="3.4"/><circle cx="1464.3" cy="1386.5" r="3.4"/></g>
<path d="M1123.9 1111.6V1139M1119.7 1111.6H1128.1M1119.7 1139H1128.1M1161.72 1143V1200.1M1157.52 1143H1165.92M1157.52 1200.1H1165.92M1199.54 1167.2V1175.1M1195.34 1167.2H1203.74M1195.34 1175.1H1203.74M1237.37 1205V1237M1233.17 1205H1241.57M1233.17 1237H1241.57M1275.19 1244.3V1270.4M1270.99 1244.3H1279.39M1270.99 1270.4H1279.39M1313.01 1282.8V1308.8M1308.81 1282.8H1317.21M1308.81 1308.8H1317.21M1350.83 1322.2V1336.2M1346.63 1322.2H1355.03M1346.63 1336.2H1355.03M1388.66 1349.6V1361.1M1384.46 1349.6H1392.86M1384.46 1361.1H1392.86M1426.48 1384.5V1388.5M1422.28 1384.5H1430.68M1422.28 1388.5H1430.68M1464.3 1405.7V1409.7M1460.1 1405.7H1468.5M1460.1 1409.7H1468.5" stroke="#30288a" stroke-width="1.15" fill="none"/><g fill="#30288a"><circle cx="1123.9" cy="1125.3" r="3.4"/><circle cx="1161.72" cy="1171.4" r="3.4"/><circle cx="1199.54" cy="1170.9" r="3.4"/><circle cx="1237.37" cy="1220.5" r="3.4"/><circle cx="1275.19" cy="1257.3" r="3.4"/><circle cx="1313.01" cy="1295.3" r="3.4"/><circle cx="1350.83" cy="1329" r="3.4"/><circle cx="1388.66" cy="1355.4" r="3.4"/><circle cx="1426.48" cy="1386.5" r="3.4"/><circle cx="1464.3" cy="1407.7" r="3.4"/></g>
<text x="1499.5" y="1093.7" font-size="20" >MCM8IP KO +</text>
<line x1="1500.7" y1="1124.1" x2="1538" y2="1124.1" stroke="#30288a" stroke-width="2.35" stroke-linecap="round"/>
<circle cx="1519.35" cy="1124.1" r="3.4" fill="#30288a"/>
<text x="1546.8" y="1131.6" font-size="20" >EV</text>
<line x1="1500.7" y1="1161.7" x2="1538" y2="1161.7" stroke="#9e1e18" stroke-width="2.35" stroke-linecap="round"/>
<circle cx="1519.35" cy="1161.7" r="3.4" fill="#9e1e18"/>
<text x="1546.8" y="1170.3" font-size="20" >MCM8IP WT</text>
<line x1="1500.7" y1="1202.3" x2="1538" y2="1202.3" stroke="#7cbe06" stroke-width="2.35" stroke-linecap="round"/>
<circle cx="1519.35" cy="1202.3" r="3.4" fill="#7cbe06"/>
<text x="1546.8" y="1208.6" font-size="20" >MCM8IP MBM #2</text>
<path d="M1474 1124.5V1201.8" stroke="#4c4c4c" stroke-width="1.2" fill="none"/>
<path d="M1471.2 1124.5H1476.8M1471.2 1201.8H1476.8" stroke="#1a1a1a" stroke-width="1.4" fill="none"/>
<path d="M1491 1124.5V1161.5" stroke="#2a2a2a" stroke-width="1.2" fill="none"/>
<path d="M1488.2 1124.5H1493.8M1488.2 1161.5H1493.8" stroke="#1a1a1a" stroke-width="1.4" fill="none"/>
<path d="M1491 1165.4V1201.8" stroke="#2a2a2a" stroke-width="1.2" fill="none"/>
<path d="M1488.2 1165.4H1493.8M1488.2 1201.8H1493.8" stroke="#1a1a1a" stroke-width="1.4" fill="none"/>
<text text-anchor="middle" transform="translate(1469.2,1162.2) rotate(-90)" font-size="15.5" >n.s.</text>
<text text-anchor="middle" transform="translate(1494.2,1143.5) rotate(-90)" font-size="19" letter-spacing="1.81">*</text>
<text text-anchor="middle" transform="translate(1494.2,1183.9) rotate(-90)" font-size="19" letter-spacing="1.81">*</text>
<text x="936.5" y="1595.3" font-weight="bold" font-size="41" >i</text>
<line x1="1036.9" y1="1593.1" x2="1036.9" y2="1947.8" stroke="#000" stroke-width="2.5"/>
<line x1="1026.9" y1="1937.8" x2="1541.85" y2="1937.8" stroke="#000" stroke-width="2.2"/>
<text x="1018.8" y="1946.3" text-anchor="end" font-size="23.3" >0</text>
<line x1="1026.9" y1="1852.38" x2="1036.9" y2="1852.38" stroke="#000" stroke-width="2.2"/>
<text x="1018.8" y="1860.88" text-anchor="end" font-size="23.3" >25</text>
<line x1="1026.9" y1="1766.95" x2="1036.9" y2="1766.95" stroke="#000" stroke-width="2.2"/>
<text x="1018.8" y="1775.45" text-anchor="end" font-size="23.3" >50</text>
<line x1="1026.9" y1="1681.52" x2="1036.9" y2="1681.52" stroke="#000" stroke-width="2.2"/>
<text x="1018.8" y="1690.02" text-anchor="end" font-size="23.3" >75</text>
<line x1="1026.9" y1="1596.1" x2="1036.9" y2="1596.1" stroke="#000" stroke-width="2.2"/>
<text x="1018.8" y="1604.6" text-anchor="end" font-size="23.3" >100</text>
<text x="1036.9" y="1974" text-anchor="middle" font-size="23.3" >0.01</text>
<line x1="1087.44" y1="1937.8" x2="1087.44" y2="1943.7" stroke="#000" stroke-width="2.5"/>
<line x1="1117.01" y1="1937.8" x2="1117.01" y2="1943.7" stroke="#000" stroke-width="2.5"/>
<line x1="1137.99" y1="1937.8" x2="1137.99" y2="1943.7" stroke="#000" stroke-width="2.5"/>
<line x1="1154.26" y1="1937.8" x2="1154.26" y2="1943.7" stroke="#000" stroke-width="2.5"/>
<line x1="1167.55" y1="1937.8" x2="1167.55" y2="1943.7" stroke="#000" stroke-width="2.5"/>
<line x1="1178.79" y1="1937.8" x2="1178.79" y2="1943.7" stroke="#000" stroke-width="2.5"/>
<line x1="1188.53" y1="1937.8" x2="1188.53" y2="1943.7" stroke="#000" stroke-width="2.5"/>
<line x1="1197.12" y1="1937.8" x2="1197.12" y2="1943.7" stroke="#000" stroke-width="2.5"/>
<line x1="1204.8" y1="1937.8" x2="1204.8" y2="1947.8" stroke="#000" stroke-width="2.5"/>
<text x="1204.8" y="1974" text-anchor="middle" font-size="23.3" >0.1</text>
<line x1="1255.34" y1="1937.8" x2="1255.34" y2="1943.7" stroke="#000" stroke-width="2.5"/>
<line x1="1284.91" y1="1937.8" x2="1284.91" y2="1943.7" stroke="#000" stroke-width="2.5"/>
<line x1="1305.89" y1="1937.8" x2="1305.89" y2="1943.7" stroke="#000" stroke-width="2.5"/>
<line x1="1322.16" y1="1937.8" x2="1322.16" y2="1943.7" stroke="#000" stroke-width="2.5"/>
<line x1="1335.45" y1="1937.8" x2="1335.45" y2="1943.7" stroke="#000" stroke-width="2.5"/>
<line x1="1346.69" y1="1937.8" x2="1346.69" y2="1943.7" stroke="#000" stroke-width="2.5"/>
<line x1="1356.43" y1="1937.8" x2="1356.43" y2="1943.7" stroke="#000" stroke-width="2.5"/>
<line x1="1365.02" y1="1937.8" x2="1365.02" y2="1943.7" stroke="#000" stroke-width="2.5"/>
<line x1="1372.7" y1="1937.8" x2="1372.7" y2="1947.8" stroke="#000" stroke-width="2.5"/>
<text x="1372.7" y="1974" text-anchor="middle" font-size="23.3" >1</text>
<line x1="1423.24" y1="1937.8" x2="1423.24" y2="1943.7" stroke="#000" stroke-width="2.5"/>
<line x1="1452.81" y1="1937.8" x2="1452.81" y2="1943.7" stroke="#000" stroke-width="2.5"/>
<line x1="1473.79" y1="1937.8" x2="1473.79" y2="1943.7" stroke="#000" stroke-width="2.5"/>
<line x1="1490.06" y1="1937.8" x2="1490.06" y2="1943.7" stroke="#000" stroke-width="2.5"/>
<line x1="1503.35" y1="1937.8" x2="1503.35" y2="1943.7" stroke="#000" stroke-width="2.5"/>
<line x1="1514.59" y1="1937.8" x2="1514.59" y2="1943.7" stroke="#000" stroke-width="2.5"/>
<line x1="1524.33" y1="1937.8" x2="1524.33" y2="1943.7" stroke="#000" stroke-width="2.5"/>
<line x1="1532.92" y1="1937.8" x2="1532.92" y2="1943.7" stroke="#000" stroke-width="2.5"/>
<line x1="1540.6" y1="1937.8" x2="1540.6" y2="1947.8" stroke="#000" stroke-width="2.5"/>
<text x="1540.6" y="1974" text-anchor="middle" font-size="23.3" >10</text>
<text x="1286" y="2005.7" text-anchor="middle" font-size="23.5" >Cisplatin (µM, log<tspan font-size="15.86" dy="6">10</tspan><tspan dy="-6">)</tspan></text>
<text text-anchor="middle" transform="translate(955.3,1762.85) rotate(-90)" font-size="23.5" >Cell survival (%)</text>
<path d="M1036.9 1607.6 L1039.9 1607.86 L1042.9 1608.13 L1045.9 1608.42 L1048.9 1608.72 L1051.9 1609.05 L1054.9 1609.38 L1057.9 1609.74 L1060.9 1610.12 L1063.9 1610.51 L1066.9 1610.93 L1069.9 1611.36 L1072.9 1611.82 L1075.9 1612.3 L1078.9 1612.8 L1081.9 1613.33 L1084.9 1613.89 L1087.9 1614.47 L1090.9 1615.08 L1093.9 1615.72 L1096.9 1616.4 L1099.9 1617.11 L1102.9 1617.85 L1105.9 1618.63 L1108.9 1619.45 L1111.9 1620.29 L1114.9 1621.18 L1117.9 1622.1 L1120.9 1623.06 L1123.9 1624.06 L1126.9 1625.09 L1129.9 1626.17 L1132.9 1627.29 L1135.9 1628.45 L1138.9 1629.64 L1141.9 1630.86 L1144.9 1632.11 L1147.9 1633.39 L1150.9 1634.71 L1153.9 1636.07 L1156.9 1637.48 L1159.9 1638.95 L1162.9 1640.48 L1165.9 1642.07 L1168.9 1643.74 L1171.9 1645.47 L1174.9 1647.29 L1177.9 1649.19 L1180.9 1651.19 L1183.9 1653.27 L1186.9 1655.46 L1189.9 1657.74 L1192.9 1660.1 L1195.9 1662.55 L1198.9 1665.09 L1201.9 1667.7 L1204.9 1670.41 L1207.9 1673.2 L1210.9 1676.07 L1213.9 1679.03 L1216.9 1682.06 L1219.9 1685.18 L1222.9 1688.38 L1225.9 1691.65 L1228.9 1695 L1231.9 1698.43 L1234.9 1701.92 L1237.9 1705.49 L1240.9 1709.14 L1243.9 1712.87 L1246.9 1716.69 L1249.9 1720.58 L1252.9 1724.53 L1255.9 1728.55 L1258.9 1732.62 L1261.9 1736.74 L1264.9 1740.89 L1267.9 1745.08 L1270.9 1749.29 L1273.9 1753.52 L1276.9 1757.75 L1279.9 1761.99 L1282.9 1766.21 L1285.9 1770.42 L1288.9 1774.61 L1291.9 1778.71 L1294.9 1782.75 L1297.9 1786.71 L1300.9 1790.61 L1303.9 1794.45 L1306.9 1798.23 L1309.9 1801.97 L1312.9 1805.67 L1315.9 1809.33 L1318.9 1812.96 L1321.9 1816.57 L1324.9 1820.17 L1327.9 1823.75 L1330.9 1827.34 L1333.9 1830.92 L1336.9 1834.52 L1339.9 1838.14 L1342.9 1841.75 L1345.9 1845.35 L1348.9 1848.92 L1351.9 1852.45 L1354.9 1855.94 L1357.9 1859.38 L1360.9 1862.75 L1363.9 1866.05 L1366.9 1869.28 L1369.9 1872.42 L1372.9 1875.46 L1375.9 1878.4 L1378.9 1881.24 L1381.9 1883.95 L1384.9 1886.54 L1387.9 1889.01 L1390.9 1891.35 L1393.9 1893.6 L1396.9 1895.77 L1399.9 1897.87 L1402.9 1899.88 L1405.9 1901.82 L1408.9 1903.69 L1411.9 1905.49 L1414.9 1907.21 L1417.9 1908.88 L1420.9 1910.48 L1423.9 1912.01 L1426.9 1913.49 L1429.9 1914.92 L1432.9 1916.29 L1435.9 1917.61 L1438.9 1918.89 L1441.9 1920.11 L1444.9 1921.29 L1447.9 1922.41 L1450.9 1923.5 L1453.9 1924.53 L1456.9 1925.53 L1459.9 1926.48 L1462.9 1927.39 L1465.9 1928.27 L1468.9 1929.1 L1471.9 1929.9 L1474.9 1930.67 L1477.9 1931.41 L1480.9 1932.11 L1483.9 1932.78 L1486.9 1933.42 L1489.7 1934" stroke="#9e1e18" stroke-width="2.35" stroke-linejoin="round" stroke-linecap="round" fill="none"/>
<path d="M1036.9 1619 L1039.9 1619.34 L1042.9 1619.7 L1045.9 1620.06 L1048.9 1620.44 L1051.9 1620.82 L1054.9 1621.22 L1057.9 1621.63 L1060.9 1622.05 L1063.9 1622.48 L1066.9 1622.92 L1069.9 1623.38 L1072.9 1623.85 L1075.9 1624.34 L1078.9 1624.84 L1081.9 1625.36 L1084.9 1625.89 L1087.9 1626.45 L1090.9 1627.03 L1093.9 1627.63 L1096.9 1628.27 L1099.9 1628.94 L1102.9 1629.64 L1105.9 1630.38 L1108.9 1631.15 L1111.9 1631.96 L1114.9 1632.82 L1117.9 1633.71 L1120.9 1634.66 L1123.9 1635.65 L1126.9 1636.69 L1129.9 1637.79 L1132.9 1638.94 L1135.9 1640.15 L1138.9 1641.41 L1141.9 1642.72 L1144.9 1644.08 L1147.9 1645.5 L1150.9 1646.98 L1153.9 1648.52 L1156.9 1650.14 L1159.9 1651.83 L1162.9 1653.6 L1165.9 1655.46 L1168.9 1657.41 L1171.9 1659.45 L1174.9 1661.59 L1177.9 1663.83 L1180.9 1666.18 L1183.9 1668.63 L1186.9 1671.21 L1189.9 1673.91 L1192.9 1676.76 L1195.9 1679.74 L1198.9 1682.85 L1201.9 1686.09 L1204.9 1689.44 L1207.9 1692.9 L1210.9 1696.46 L1213.9 1700.12 L1216.9 1703.87 L1219.9 1707.7 L1222.9 1711.6 L1225.9 1715.56 L1228.9 1719.57 L1231.9 1723.63 L1234.9 1727.72 L1237.9 1731.83 L1240.9 1735.96 L1243.9 1740.11 L1246.9 1744.28 L1249.9 1748.47 L1252.9 1752.67 L1255.9 1756.89 L1258.9 1761.13 L1261.9 1765.39 L1264.9 1769.66 L1267.9 1773.94 L1270.9 1778.24 L1273.9 1782.54 L1276.9 1786.86 L1279.9 1791.18 L1282.9 1795.51 L1285.9 1799.84 L1288.9 1804.18 L1291.9 1808.48 L1294.9 1812.73 L1297.9 1816.93 L1300.9 1821.07 L1303.9 1825.15 L1306.9 1829.15 L1309.9 1833.09 L1312.9 1836.94 L1315.9 1840.72 L1318.9 1844.41 L1321.9 1848.01 L1324.9 1851.53 L1327.9 1854.95 L1330.9 1858.28 L1333.9 1861.51 L1336.9 1864.65 L1339.9 1867.69 L1342.9 1870.65 L1345.9 1873.54 L1348.9 1876.34 L1351.9 1879.06 L1354.9 1881.69 L1357.9 1884.23 L1360.9 1886.68 L1363.9 1889.05 L1366.9 1891.32 L1369.9 1893.5 L1372.9 1895.58 L1375.9 1897.58 L1378.9 1899.48 L1381.9 1901.28 L1384.9 1903 L1387.9 1904.61 L1390.9 1906.14 L1393.9 1907.58 L1396.9 1908.95 L1399.9 1910.24 L1402.9 1911.47 L1405.9 1912.63 L1408.9 1913.72 L1411.9 1914.76 L1414.9 1915.74 L1417.9 1916.67 L1420.9 1917.55 L1423.9 1918.38 L1426.9 1919.17 L1429.9 1919.91 L1432.9 1920.62 L1435.9 1921.3 L1438.9 1921.94 L1441.9 1922.55 L1444.9 1923.13 L1447.9 1923.68 L1450.9 1924.19 L1453.9 1924.68 L1456.9 1925.14 L1459.9 1925.57 L1462.9 1925.98 L1465.9 1926.37 L1468.9 1926.73 L1471.9 1927.07 L1474.9 1927.39 L1477.9 1927.69 L1480.9 1927.97 L1483.9 1928.23 L1486.9 1928.48 L1489.7 1928.7" stroke="#e0b060" stroke-width="2.35" stroke-linejoin="round" stroke-linecap="round" fill="none"/>
<path d="M1036.9 1639 L1039.9 1639.19 L1042.9 1639.4 L1045.9 1639.63 L1048.9 1639.87 L1051.9 1640.13 L1054.9 1640.41 L1057.9 1640.71 L1060.9 1641.03 L1063.9 1641.37 L1066.9 1641.74 L1069.9 1642.14 L1072.9 1642.57 L1075.9 1643.02 L1078.9 1643.51 L1081.9 1644.03 L1084.9 1644.58 L1087.9 1645.18 L1090.9 1645.82 L1093.9 1646.49 L1096.9 1647.22 L1099.9 1647.99 L1102.9 1648.81 L1105.9 1649.69 L1108.9 1650.63 L1111.9 1651.62 L1114.9 1652.68 L1117.9 1653.8 L1120.9 1654.99 L1123.9 1656.26 L1126.9 1657.6 L1129.9 1659.03 L1132.9 1660.53 L1135.9 1662.13 L1138.9 1663.82 L1141.9 1665.6 L1144.9 1667.48 L1147.9 1669.46 L1150.9 1671.54 L1153.9 1673.74 L1156.9 1676.05 L1159.9 1678.49 L1162.9 1681.04 L1165.9 1683.72 L1168.9 1686.53 L1171.9 1689.47 L1174.9 1692.55 L1177.9 1695.76 L1180.9 1699.11 L1183.9 1702.6 L1186.9 1706.23 L1189.9 1710 L1192.9 1713.92 L1195.9 1717.97 L1198.9 1722.16 L1201.9 1726.48 L1204.9 1730.92 L1207.9 1735.47 L1210.9 1740.12 L1213.9 1744.87 L1216.9 1749.69 L1219.9 1754.59 L1222.9 1759.55 L1225.9 1764.56 L1228.9 1769.6 L1231.9 1774.66 L1234.9 1779.73 L1237.9 1784.79 L1240.9 1789.84 L1243.9 1794.87 L1246.9 1799.86 L1249.9 1804.81 L1252.9 1809.71 L1255.9 1814.54 L1258.9 1819.29 L1261.9 1823.97 L1264.9 1828.56 L1267.9 1833.04 L1270.9 1837.43 L1273.9 1841.7 L1276.9 1845.86 L1279.9 1849.9 L1282.9 1853.81 L1285.9 1857.61 L1288.9 1861.27 L1291.9 1864.81 L1294.9 1868.21 L1297.9 1871.47 L1300.9 1874.6 L1303.9 1877.6 L1306.9 1880.47 L1309.9 1883.22 L1312.9 1885.83 L1315.9 1888.32 L1318.9 1890.7 L1321.9 1892.95 L1324.9 1895.1 L1327.9 1897.13 L1330.9 1899.06 L1333.9 1900.89 L1336.9 1902.62 L1339.9 1904.26 L1342.9 1905.81 L1345.9 1907.27 L1348.9 1908.65 L1351.9 1909.94 L1354.9 1911.17 L1357.9 1912.32 L1360.9 1913.41 L1363.9 1914.43 L1366.9 1915.39 L1369.9 1916.29 L1372.9 1917.13 L1375.9 1917.93 L1378.9 1918.68 L1381.9 1919.38 L1384.9 1920.04 L1387.9 1920.65 L1390.9 1921.23 L1393.9 1921.78 L1396.9 1922.29 L1399.9 1922.77 L1402.9 1923.22 L1405.9 1923.65 L1408.9 1924.05 L1411.9 1924.43 L1414.9 1924.79 L1417.9 1925.13 L1420.9 1925.44 L1423.9 1925.74 L1426.9 1926.02 L1429.9 1926.28 L1432.9 1926.53 L1435.9 1926.76 L1438.9 1926.98 L1441.9 1927.19 L1444.9 1927.38 L1447.9 1927.57 L1450.9 1927.75 L1453.9 1927.92 L1456.9 1928.08 L1459.9 1928.24 L1462.9 1928.39 L1465.9 1928.53 L1468.9 1928.67 L1471.9 1928.81 L1474.9 1928.93 L1477.9 1929.06 L1480.9 1929.17 L1483.9 1929.29 L1486.9 1929.4 L1489.7 1929.5" stroke="#30288a" stroke-width="2.35" stroke-linejoin="round" stroke-linecap="round" fill="none"/>
<path d="M1036.9 1598.8V1622.3M1032.7 1598.8H1041.1M1032.7 1622.3H1041.1M1085.5 1614.8V1641M1081.3 1614.8H1089.7M1081.3 1641H1089.7M1136.03 1584.1V1620.3M1131.83 1584.1H1140.23M1131.83 1620.3H1140.23M1186.55 1633.7V1669.6M1182.35 1633.7H1190.75M1182.35 1669.6H1190.75M1237.08 1699.3V1734.2M1232.88 1699.3H1241.28M1232.88 1734.2H1241.28M1287.6 1769V1792.6M1283.4 1769H1291.8M1283.4 1792.6H1291.8M1338.12 1811.3V1833.2M1333.92 1811.3H1342.33M1333.92 1833.2H1342.33M1388.65 1880.1V1896.3M1384.45 1880.1H1392.85M1384.45 1896.3H1392.85M1439.18 1923V1927M1434.98 1923H1443.38M1434.98 1927H1443.38M1489.7 1929.5V1933.5M1485.5 1929.5H1493.9M1485.5 1933.5H1493.9" stroke="#9e1e18" stroke-width="1.15" fill="none"/><g fill="#9e1e18"><circle cx="1036.9" cy="1614" r="3.4"/><circle cx="1085.5" cy="1627.3" r="3.4"/><circle cx="1136.03" cy="1601.8" r="3.4"/><circle cx="1186.55" cy="1652.2" r="3.4"/><circle cx="1237.08" cy="1716.8" r="3.4"/><circle cx="1287.6" cy="1780.8" r="3.4"/><circle cx="1338.12" cy="1822" r="3.4"/><circle cx="1388.65" cy="1888.1" r="3.4"/><circle cx="1439.18" cy="1925" r="3.4"/><circle cx="1489.7" cy="1931.5" r="3.4"/></g>
<path d="M1036.9 1612.3V1627.3M1032.7 1612.3H1041.1M1032.7 1627.3H1041.1M1085.5 1630.3V1656.2M1081.3 1630.3H1089.7M1081.3 1656.2H1089.7M1136.03 1599.8V1629.8M1131.83 1599.8H1140.23M1131.83 1629.8H1140.23M1186.55 1652.2V1684.1M1182.35 1652.2H1190.75M1182.35 1684.1H1190.75M1237.08 1723.7V1755.3M1232.88 1723.7H1241.28M1232.88 1755.3H1241.28M1287.6 1804.8V1818.5M1283.4 1804.8H1291.8M1283.4 1818.5H1291.8M1338.12 1841.7V1862.2M1333.92 1841.7H1342.33M1333.92 1862.2H1342.33M1388.65 1898.8V1907.5M1384.45 1898.8H1392.85M1384.45 1907.5H1392.85M1439.18 1923.7V1927.7M1434.98 1923.7H1443.38M1434.98 1927.7H1443.38M1489.7 1927.5V1931.5M1485.5 1927.5H1493.9M1485.5 1931.5H1493.9" stroke="#e0b060" stroke-width="1.15" fill="none"/><g fill="#e0b060"><circle cx="1036.9" cy="1620.3" r="3.4"/><circle cx="1085.5" cy="1643" r="3.4"/><circle cx="1136.03" cy="1615" r="3.4"/><circle cx="1186.55" cy="1668.1" r="3.4"/><circle cx="1237.08" cy="1739.5" r="3.4"/><circle cx="1287.6" cy="1811.6" r="3.4"/><circle cx="1338.12" cy="1851.9" r="3.4"/><circle cx="1388.65" cy="1903.3" r="3.4"/><circle cx="1439.18" cy="1925.7" r="3.4"/><circle cx="1489.7" cy="1929.5" r="3.4"/></g>
<path d="M1036.9 1616V1644.2M1032.7 1616H1041.1M1032.7 1644.2H1041.1M1085.5 1648V1676.9M1081.3 1648H1089.7M1081.3 1676.9H1089.7M1136.03 1633.2V1667.9M1131.83 1633.2H1140.23M1131.83 1667.9H1140.23M1186.55 1694.6V1721.5M1182.35 1694.6H1190.75M1182.35 1721.5H1190.75M1237.08 1767.4V1799.8M1232.88 1767.4H1241.28M1232.88 1799.8H1241.28M1287.6 1849.2V1872.4M1283.4 1849.2H1291.8M1283.4 1872.4H1291.8M1338.12 1893.6V1907.5M1333.92 1893.6H1342.33M1333.92 1907.5H1342.33M1388.65 1917.5V1927.7M1384.45 1917.5H1392.85M1384.45 1927.7H1392.85M1439.18 1924.5V1928.5M1434.98 1924.5H1443.38M1434.98 1928.5H1443.38M1489.7 1927.5V1931.5M1485.5 1927.5H1493.9M1485.5 1931.5H1493.9" stroke="#30288a" stroke-width="1.15" fill="none"/><g fill="#30288a"><circle cx="1036.9" cy="1630" r="3.4"/><circle cx="1085.5" cy="1662.7" r="3.4"/><circle cx="1136.03" cy="1650.4" r="3.4"/><circle cx="1186.55" cy="1708" r="3.4"/><circle cx="1237.08" cy="1783.3" r="3.4"/><circle cx="1287.6" cy="1860.7" r="3.4"/><circle cx="1338.12" cy="1900.8" r="3.4"/><circle cx="1388.65" cy="1922.7" r="3.4"/><circle cx="1439.18" cy="1926.5" r="3.4"/><circle cx="1489.7" cy="1929.5" r="3.4"/></g>
<text x="1498.6" y="1636.5" font-size="20" >MCM8IP KO +</text>
<line x1="1499.2" y1="1667.3" x2="1536.8" y2="1667.3" stroke="#30288a" stroke-width="2.35" stroke-linecap="round"/>
<circle cx="1518" cy="1667.3" r="3.4" fill="#30288a"/>
<text x="1547.7" y="1673.9" font-size="20" >EV</text>
<line x1="1500.4" y1="1705.7" x2="1538" y2="1705.7" stroke="#9e1e18" stroke-width="2.35" stroke-linecap="round"/>
<circle cx="1519.2" cy="1705.7" r="3.4" fill="#9e1e18"/>
<text x="1547.7" y="1712.7" font-size="20" >MCM8IP WT</text>
<line x1="1500.4" y1="1746.4" x2="1538" y2="1746.4" stroke="#e0b060" stroke-width="2.35" stroke-linecap="round"/>
<circle cx="1519.2" cy="1746.4" r="3.4" fill="#e0b060"/>
<text x="1547.7" y="1751.3" font-size="20" >MCM8IP RBM</text>
<path d="M1472.8 1667.5V1745.3" stroke="#4c4c4c" stroke-width="1.2" fill="none"/>
<path d="M1470 1667.5H1475.6M1470 1745.3H1475.6" stroke="#1a1a1a" stroke-width="1.4" fill="none"/>
<path d="M1490.1 1667.5V1704.2" stroke="#2a2a2a" stroke-width="1.2" fill="none"/>
<path d="M1487.3 1667.5H1492.9M1487.3 1704.2H1492.9" stroke="#1a1a1a" stroke-width="1.4" fill="none"/>
<path d="M1490.1 1708.4V1745.3" stroke="#2a2a2a" stroke-width="1.2" fill="none"/>
<path d="M1487.3 1708.4H1492.9M1487.3 1745.3H1492.9" stroke="#1a1a1a" stroke-width="1.4" fill="none"/>
<text text-anchor="middle" transform="translate(1476,1703.3) rotate(-90)" font-size="19" letter-spacing="1.81">****</text>
<text text-anchor="middle" transform="translate(1493,1683.8) rotate(-90)" font-size="19" letter-spacing="1.81">****</text>
<text text-anchor="middle" transform="translate(1493,1727.1) rotate(-90)" font-size="19" letter-spacing="1.81">*</text>
<defs><filter id="b1" x="-30%" y="-80%" width="160%" height="260%"><feGaussianBlur stdDeviation="1.7"/></filter><filter id="b2" x="-30%" y="-80%" width="160%" height="260%"><feGaussianBlur stdDeviation="2.6"/></filter><filter id="b0" x="-30%" y="-80%" width="160%" height="260%"><feGaussianBlur stdDeviation="1.0"/></filter></defs>
<text x="935" y="30.1" font-weight="bold" font-size="41" >b</text>
<text x="1259.8" y="84.7" text-anchor="middle" font-size="24.6" >MCM8IP</text>
<text x="1259.8" y="113.6" text-anchor="middle" font-size="24.6" >sgRNA</text>
<line x1="1216.6" y1="126.3" x2="1302.9" y2="126.3" stroke="#000" stroke-width="1.6"/>
<text x="1102.6" y="164.3" font-size="23.1" >kDa</text>
<text x="1179.2" y="157" text-anchor="middle" font-size="23.1" >C</text>
<text x="1232.5" y="157" text-anchor="middle" font-size="23.1" >#2</text>
<text x="1283.9" y="157" text-anchor="middle" font-size="23.1" >#3</text>
<clipPath id="c1"><rect x="1149.2" y="171.7" width="167" height="55.7"/></clipPath>
<rect x="1149.2" y="171.7" width="167" height="55.7" fill="#f0f0f0"/>
<g clip-path="url(#c1)" fill="#0c0c0c">
<path filter="url(#b1)" d="M1171.5 194.15Q1182.8 197.01 1194.1 194.15C1204.29 194.15 1204.29 210.05 1194.1 210.05Q1182.8 207.19 1171.5 210.05C1161.31 210.05 1161.31 194.15 1171.5 194.15Z"/>
<rect x="1166.5" y="208" width="30" height="16" rx="8" ry="8" opacity="0.04" filter="url(#b2)"/>
<rect x="1217.6" y="199.85" width="31" height="4.5" rx="2.25" ry="2.25" opacity="0.3" filter="url(#b2)"/>
<rect x="1269.5" y="198.25" width="33" height="4.5" rx="2.25" ry="2.25" opacity="0.06" filter="url(#b2)"/>
</g>
<rect x="1150.05" y="172.55" width="165.3" height="54" fill="none" stroke="#000" stroke-width="1.7"/>
<clipPath id="c2"><rect x="1149.2" y="232.3" width="167" height="55.4"/></clipPath>
<rect x="1149.2" y="232.3" width="167" height="55.4" fill="#f0f0f0"/>
<g clip-path="url(#c2)" fill="#0c0c0c">
<path filter="url(#b1)" d="M1167.68 252.95Q1179.5 255.48 1191.32 252.95C1202.16 252.95 1202.16 269.85 1191.32 269.85Q1179.5 267.31 1167.68 269.85C1156.84 269.85 1156.84 252.95 1167.68 252.95Z"/>
<path filter="url(#b1)" d="M1216.89 253.9Q1230.7 257.18 1244.51 253.9C1255.03 253.9 1255.03 270.3 1244.51 270.3Q1230.7 267.02 1216.89 270.3C1206.37 270.3 1206.37 253.9 1216.89 253.9Z"/>
<path filter="url(#b1)" transform="rotate(-1 1284.2 259.7)" d="M1270.17 252Q1284.2 256.16 1299.7 253.54C1307.6 253.54 1307.6 265.86 1299.7 265.86Q1284.2 263.24 1270.17 267.4C1260.29 267.4 1260.29 252 1270.17 252Z"/>
</g>
<rect x="1150.05" y="233.15" width="165.3" height="53.7" fill="none" stroke="#000" stroke-width="1.7"/>
<text x="1136.4" y="194.2" text-anchor="end" font-size="22.3" >75</text>
<line x1="1141.9" y1="186.9" x2="1150" y2="186.9" stroke="#000" stroke-width="1.6"/>
<text x="1136.4" y="254.8" text-anchor="end" font-size="22.3" >50</text>
<line x1="1141.9" y1="247.7" x2="1150" y2="247.7" stroke="#000" stroke-width="1.6"/>
<text x="1324.4" y="210" font-size="24.6" >MCM8IP</text>
<text x="1324.9" y="268" font-size="24.6" >TUBULIN</text>
<text x="-0.5" y="1596.5" font-weight="bold" font-size="41" >g</text>
<text x="0.6" y="1764" font-size="23.1" >kDa</text>
<text text-anchor="middle" transform="translate(84.26,1759.63) rotate(-60)" font-size="23.1" >C</text>
<text text-anchor="middle" transform="translate(139.76,1752.33) rotate(-60)" font-size="23.1" >KO</text>
<clipPath id="c3"><rect x="44.4" y="1777.1" width="110.6" height="55.5"/></clipPath>
<rect x="44.4" y="1777.1" width="110.6" height="55.5" fill="#f0f0f0"/>
<g clip-path="url(#c3)" fill="#0c0c0c">
<path filter="url(#b1)" d="M63.79 1794.9Q75.6 1799.49 87.41 1794.9C97.93 1794.9 97.93 1811.3 87.41 1811.3Q75.6 1806.71 63.79 1811.3C53.27 1811.3 53.27 1794.9 63.79 1794.9Z"/>
<rect x="59.6" y="1811" width="32" height="16" rx="8" ry="8" opacity="0.04" filter="url(#b2)"/>
</g>
<rect x="45.25" y="1777.95" width="108.9" height="53.8" fill="none" stroke="#000" stroke-width="1.7"/>
<clipPath id="c4"><rect x="44.4" y="1839.9" width="110.6" height="55.6"/></clipPath>
<rect x="44.4" y="1839.9" width="110.6" height="55.6" fill="#f0f0f0"/>
<g clip-path="url(#c4)" fill="#0c0c0c">
<path filter="url(#b1)" d="M61.77 1862.7Q76 1869.4 90.23 1862.7C98.83 1862.7 98.83 1876.1 90.23 1876.1Q76 1869.4 61.77 1876.1C53.17 1876.1 53.17 1862.7 61.77 1862.7Z"/>
<path filter="url(#b1)" d="M114.23 1860.95Q128.3 1865.34 142.37 1860.95C153.21 1860.95 153.21 1877.85 142.37 1877.85Q128.3 1873.46 114.23 1877.85C103.39 1877.85 103.39 1860.95 114.23 1860.95Z"/>
</g>
<rect x="45.25" y="1840.75" width="108.9" height="53.9" fill="none" stroke="#000" stroke-width="1.7"/>
<text x="29" y="1800.3" text-anchor="end" font-size="22.3" >75</text>
<line x1="38" y1="1792.4" x2="45" y2="1792.4" stroke="#000" stroke-width="1.6"/>
<text x="29" y="1867.5" text-anchor="end" font-size="22.3" >50</text>
<line x1="38" y1="1859.8" x2="45" y2="1859.8" stroke="#000" stroke-width="1.6"/>
<text x="309.4" y="1657.6" text-anchor="middle" font-size="24.6" >MCM8IP KO</text>
<line x1="224.3" y1="1667.2" x2="395.8" y2="1667.2" stroke="#000" stroke-width="1.6"/>
<text x="177.8" y="1763.5" font-size="23.1" >kDa</text>
<text text-anchor="middle" transform="translate(267.36,1752.23) rotate(-60)" font-size="23.1" >EV</text>
<text text-anchor="middle" transform="translate(314.86,1748.93) rotate(-60)" font-size="23.1" >WT</text>
<text text-anchor="middle" transform="translate(372.66,1727.23) rotate(-60)" font-size="23.1" >MBM #2</text>
<clipPath id="c5"><rect x="220.1" y="1777" width="163.3" height="55.5"/></clipPath>
<rect x="220.1" y="1777" width="163.3" height="55.5" fill="#f0f0f0"/>
<g clip-path="url(#c5)" fill="#0c0c0c">
<path opacity="0.97" filter="url(#b1)" transform="rotate(-2 302.9 1802.5)" d="M290.74 1797.3Q302.9 1801.46 315.06 1797.3C321.73 1797.3 321.73 1807.7 315.06 1807.7Q302.9 1803.54 290.74 1807.7C284.07 1807.7 284.07 1797.3 290.74 1797.3Z"/>
<path filter="url(#b1)" d="M336.82 1799.3Q348.4 1801.94 359.98 1799.3C368.44 1799.3 368.44 1812.5 359.98 1812.5Q348.4 1809.86 336.82 1812.5C328.36 1812.5 328.36 1799.3 336.82 1799.3Z"/>
</g>
<rect x="220.95" y="1777.85" width="161.6" height="53.8" fill="none" stroke="#000" stroke-width="1.7"/>
<clipPath id="c6"><rect x="220.1" y="1839.6" width="163.3" height="55.5"/></clipPath>
<rect x="220.1" y="1839.6" width="163.3" height="55.5" fill="#f0f0f0"/>
<g clip-path="url(#c6)" fill="#0c0c0c">
<path filter="url(#b1)" transform="rotate(-3 257.6 1870.9)" d="M243.46 1865.94Q257.6 1867.34 270.27 1864.39C278.61 1864.39 278.61 1877.41 270.27 1877.41Q257.6 1874.47 243.46 1875.86C237.1 1875.86 237.1 1865.94 243.46 1865.94Z"/>
<path filter="url(#b1)" d="M292.94 1863.8Q302.6 1866.23 312.26 1863.8C322.64 1863.8 322.64 1880 312.26 1880Q302.6 1877.57 292.94 1880C282.56 1880 282.56 1863.8 292.94 1863.8Z"/>
<path filter="url(#b1)" transform="rotate(-2 346.8 1869.7)" d="M334.71 1863.89Q346.8 1866.31 357.97 1862.93C366.65 1862.93 366.65 1876.47 357.97 1876.47Q346.8 1873.09 334.71 1875.51C327.27 1875.51 327.27 1863.89 334.71 1863.89Z"/>
</g>
<rect x="220.95" y="1840.45" width="161.6" height="53.8" fill="none" stroke="#000" stroke-width="1.7"/>
<text x="207.2" y="1787.2" text-anchor="end" font-size="22.3" >75</text>
<line x1="213.9" y1="1778" x2="221" y2="1778" stroke="#000" stroke-width="1.6"/>
<text x="207.2" y="1849.6" text-anchor="end" font-size="22.3" >50</text>
<line x1="213.9" y1="1840.4" x2="221" y2="1840.4" stroke="#000" stroke-width="1.6"/>
<text x="392.3" y="1816.5" font-size="24.6" >MCM8IP</text>
<text x="392.3" y="1873.9" font-size="24.6" >TUBULIN</text>
<text x="541" y="1595.5" font-weight="bold" font-size="41" >h</text>
<text x="678.2" y="1660.1" text-anchor="middle" font-size="24.6" >MCM8IP KO</text>
<line x1="598.9" y1="1671.2" x2="766.3" y2="1671.2" stroke="#000" stroke-width="1.6"/>
<text x="548.3" y="1734.9" font-size="23.1" >kDa</text>
<text text-anchor="middle" transform="translate(637.06,1723.13) rotate(-60)" font-size="23.1" >EV</text>
<text text-anchor="middle" transform="translate(691.96,1719.73) rotate(-60)" font-size="23.1" >WT</text>
<text text-anchor="middle" transform="translate(750.86,1712.93) rotate(-60)" font-size="23.1" >RBM</text>
<clipPath id="c7"><rect x="598.2" y="1747.7" width="168.7" height="78.1"/></clipPath>
<rect x="598.2" y="1747.7" width="168.7" height="78.1" fill="#f0f0f0"/>
<g clip-path="url(#c7)" fill="#0c0c0c">
<rect x="658.25" y="1777.3" width="45.5" height="4.2" rx="2.1" ry="2.1" opacity="0.97" filter="url(#b0)"/>
<rect x="736.9" y="1806.8" width="26" height="4.2" rx="2.1" ry="2.1" opacity="0.95" filter="url(#b0)" transform="rotate(-3 749.9 1808.9)"/>
<rect x="716" y="1808.5" width="22" height="2.2" rx="1.1" ry="1.1" opacity="0.55" filter="url(#b0)"/>
<rect x="605" y="1757.45" width="46" height="2.5" rx="1.25" ry="1.25" opacity="0.06" filter="url(#b2)" transform="rotate(4 628 1758.7)"/>
<rect x="661" y="1760.45" width="42" height="2.5" rx="1.25" ry="1.25" opacity="0.08" filter="url(#b2)"/>
<rect x="741.4" y="1759.65" width="20" height="2.5" rx="1.25" ry="1.25" opacity="0.11" filter="url(#b2)"/>
</g>
<rect x="599.05" y="1748.55" width="167" height="76.4" fill="none" stroke="#000" stroke-width="1.7"/>
<clipPath id="c8"><rect x="598.2" y="1833.9" width="168.7" height="67"/></clipPath>
<rect x="598.2" y="1833.9" width="168.7" height="67" fill="#f0f0f0"/>
<g clip-path="url(#c8)" fill="#0c0c0c">
<rect x="599.5" y="1863.8" width="54" height="7.2" rx="3.6" ry="3.6" filter="url(#b0)" transform="rotate(6 626.5 1867.4)"/>
<rect x="655.5" y="1867.3" width="52" height="7.8" rx="3.9" ry="3.9" filter="url(#b0)" transform="rotate(1 681.5 1871.2)"/>
<rect x="709" y="1866.2" width="58" height="8" rx="4" ry="4" filter="url(#b0)" transform="rotate(-1 738 1870.2)"/>
</g>
<rect x="599.05" y="1834.75" width="167" height="65.3" fill="none" stroke="#000" stroke-width="1.7"/>
<text x="580.2" y="1763.6" text-anchor="end" font-size="22.3" >75</text>
<line x1="591.1" y1="1755.3" x2="599" y2="1755.3" stroke="#000" stroke-width="1.6"/>
<text x="580.2" y="1841.5" text-anchor="end" font-size="22.3" >150</text>
<line x1="591.1" y1="1834.8" x2="599" y2="1834.8" stroke="#000" stroke-width="1.6"/>
<text x="580.2" y="1906" text-anchor="end" font-size="22.3" >100</text>
<line x1="591.1" y1="1900.1" x2="599" y2="1900.1" stroke="#000" stroke-width="1.6"/>
<text x="775.6" y="1771" font-size="21" >*</text>
<text x="776.1" y="1798.4" font-size="24.6" >MCM8IP</text>
<text x="776.1" y="1875" font-size="24.6" >VINCULIN</text>
</svg>
</body></html>
